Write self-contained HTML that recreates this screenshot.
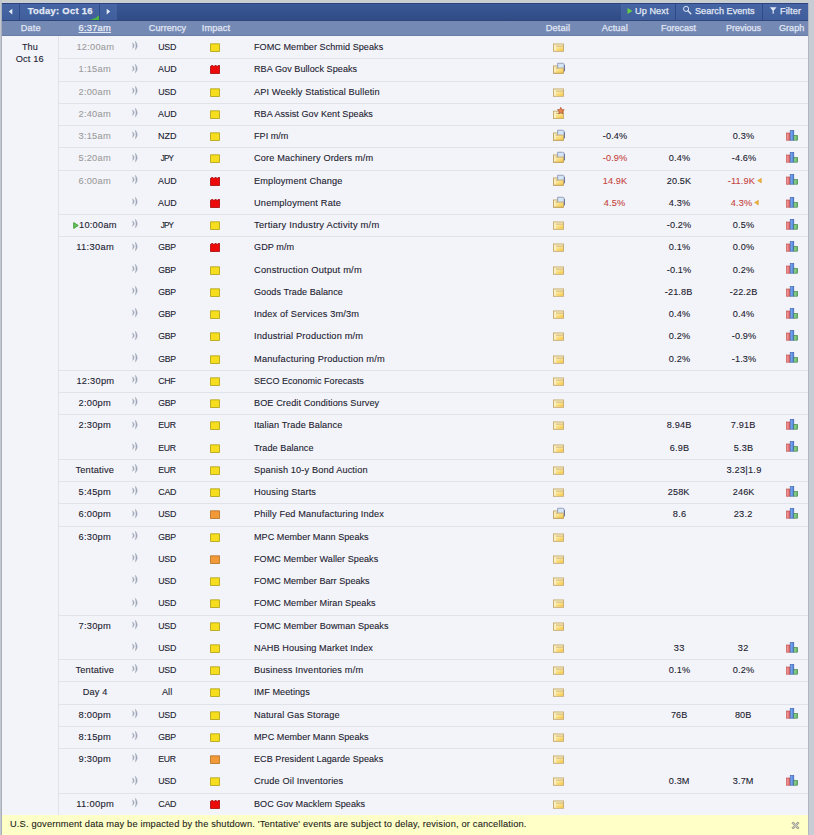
<!DOCTYPE html>
<html><head><meta charset="utf-8"><style>
html,body{margin:0;padding:0;}
body{width:814px;height:835px;position:relative;overflow:hidden;background:#cbcfcc;font-family:"Liberation Sans",sans-serif;}
.lb{position:absolute;left:0;top:0;width:2px;height:835px;background:#c3c7cf;}
.lb2{position:absolute;left:1px;top:3px;width:1px;height:832px;background:#a9aebb;}
.tb{position:absolute;left:2px;top:3px;width:806px;height:18px;background:linear-gradient(#3b5998,#304b84);}
.tbt{position:absolute;left:2px;top:3px;width:806px;height:1px;background:#2f4576;}
.tbl{position:absolute;left:2px;top:20px;width:806px;height:1px;background:#2f4678;}
.btn{position:absolute;top:4px;height:16px;background:linear-gradient(#4665a4,#405e9b);}
.sep{position:absolute;top:4px;height:16px;width:1px;background:#2f4a86;}
.hd{position:absolute;left:2px;top:21px;width:806px;height:14px;background:#7589b5;}
.hdl{position:absolute;left:2px;top:35px;width:806px;height:1px;background:#6a7ca6;}
.main{position:absolute;left:2px;top:36px;width:806px;height:779px;background:#f3f4f9;}
.vl{position:absolute;left:58px;top:36px;width:1px;height:779px;background:#e0e3ea;}
.hl{position:absolute;left:58px;width:750px;height:1px;background:#e0e3ea;}
.rb{position:absolute;left:808px;top:0;width:6px;height:835px;background:#c8ccd5;}
.rbl{position:absolute;left:808px;top:3px;width:1px;height:832px;background:#b2b6c2;}
.t{position:absolute;height:20px;line-height:20px;white-space:nowrap;color:#1b2130;-webkit-text-stroke:0.1px currentColor;}
.s{display:inline-block;}
.past{color:#9c9c9c;}
.cur{color:#1b2130;}
.val{color:#1b2130;}
.bad{color:#c6453f;}
.bt{color:#e2e9f6;-webkit-text-stroke:0.25px #e2e9f6;}
.ht{color:#e0e7f4;-webkit-text-stroke:0.25px #e0e7f4;}
.now{color:#f2f5fb;} .now .s{text-decoration:underline;}
.ic{position:absolute;line-height:0;}
.ft{position:absolute;left:2px;top:815px;width:806px;height:20px;background:#ffffc8;}
.ftt{color:#24241a;}
</style></head><body>
<svg width="0" height="0" style="position:absolute"><defs>
<linearGradient id="fg" x1="0" y1="0" x2="0.6" y2="1"><stop offset="0" stop-color="#fdf0b8"/><stop offset="1" stop-color="#f6cc50"/></linearGradient>
<linearGradient id="gr" x1="0" y1="0" x2="1" y2="0"><stop offset="0" stop-color="#f6a0a0"/><stop offset="1" stop-color="#e06060"/></linearGradient>
<linearGradient id="gb" x1="0" y1="0" x2="1" y2="0"><stop offset="0" stop-color="#88b4f4"/><stop offset="1" stop-color="#4a80dc"/></linearGradient>
<linearGradient id="gg" x1="0" y1="0" x2="1" y2="0"><stop offset="0" stop-color="#a4e0a4"/><stop offset="1" stop-color="#5aae60"/></linearGradient>
</defs></svg>
<div class="lb"></div><div class="lb2"></div><div style="position:absolute;left:2px;top:2px;width:806px;height:1px;background:#c6cde0"></div>
<div class="tb"></div>
<div class="tbt"></div>
<div class="btn" style="left:2px;width:17px"></div>
<div class="sep" style="left:19px"></div>
<div class="btn" style="left:20px;width:79px"></div>
<div class="sep" style="left:99px"></div>
<div class="btn" style="left:100px;width:17px"></div>
<div class="btn" style="left:621px;width:54px"></div>
<div class="sep" style="left:675px"></div>
<div class="btn" style="left:676px;width:86px"></div>
<div class="sep" style="left:762px"></div>
<div class="btn" style="left:763px;width:45px"></div>
<div class="tbl"></div>
<svg class="ic" style="left:8px;top:8px" width="5" height="8" viewBox="0 0 5 8"><path d="M4.3 0.8 L0.8 3.6 L4.3 6.4 Z" fill="#e6ecf7"/></svg>
<svg class="ic" style="left:106px;top:8px" width="5" height="8" viewBox="0 0 5 8"><path d="M0.7 0.8 L4.2 3.6 L0.7 6.4 Z" fill="#e6ecf7"/></svg>
<svg class="ic" style="left:90px;top:15px" width="9" height="5" viewBox="0 0 9 5"><path d="M9 0.3 L9 5 L0 5 Q5 4.2 9 0.3 Z" fill="#4cb544"/></svg>
<svg class="ic" style="left:627px;top:8px" width="6" height="6" viewBox="0 0 6 6"><path d="M0.5 0 L5.5 3 L0.5 6 Z" fill="#66cc44"/></svg>
<svg class="ic" style="left:680px;top:4px" width="14" height="12" viewBox="0 0 14 12"><circle cx="6.1" cy="4.9" r="2.55" fill="none" stroke="#dfe7f5" stroke-width="1"/><path d="M7.9 6.8 L10.8 9.7" stroke="#dfe7f5" stroke-width="1.3" stroke-linecap="round"/></svg>
<svg class="ic" style="left:768px;top:6px" width="10" height="9" viewBox="0 0 10 9"><path d="M1.8 1.2 L8.6 1.2 L5.8 4.4 L5.8 7.8 L4.6 7.8 L4.6 4.4 Z" fill="#dfe7f5"/></svg>
<div class="hd"></div>
<div class="hdl"></div>
<div class="main"></div>
<div class="vl"></div>
<div class="rb"></div><div class="rbl"></div>
<div class="ft"></div>
<svg class="ic" style="left:791px;top:821px" width="9" height="9" viewBox="0 0 9 9"><path d="M1 2.2 L2.2 1 L4.5 3.3 L6.8 1 L8 2.2 L5.7 4.5 L8 6.8 L6.8 8 L4.5 5.7 L2.2 8 L1 6.8 L3.3 4.5 Z" fill="#cfcfc6" stroke="#77776a" stroke-width="0.7"/></svg>
<div class="t bt" style="left:-40.40px;top:1.00px;width:200px;text-align:center;font-size:9.0px;font-weight:bold;"><span class="s" style="transform:scaleX(1.0424);transform-origin:center;letter-spacing:0.276px;margin-right:-0.276px">Today: Oct 16</span></div>
<div class="t bt" style="left:634.50px;top:1.00px;font-size:9.0px;"><span class="s" style="transform:scaleX(1.0125);transform-origin:left;letter-spacing:0.086px;margin-right:-0.086px">Up Next</span></div>
<div class="t bt" style="left:694.70px;top:1.00px;font-size:9.0px;"><span class="s" style="transform:scaleX(1.0074);transform-origin:left;letter-spacing:0.050px;margin-right:-0.050px">Search Events</span></div>
<div class="t bt" style="left:779.50px;top:1.00px;font-size:9.0px;"><span class="s" style="transform:scaleX(1.0208);transform-origin:left;letter-spacing:0.102px;margin-right:-0.102px">Filter</span></div>
<div class="t ht" style="left:-69.80px;top:18.00px;width:200px;text-align:center;font-size:9.0px;"><span class="s" style="transform:scaleX(1.0175);transform-origin:center;letter-spacing:0.122px;margin-right:-0.122px">Date</span></div>
<div class="t ht" style="left:67.00px;top:18.00px;width:200px;text-align:center;font-size:9.0px;"><span class="s" style="transform:scaleX(1.0097);transform-origin:center;letter-spacing:0.065px;margin-right:-0.065px">Currency</span></div>
<div class="t ht" style="left:115.60px;top:18.00px;width:200px;text-align:center;font-size:9.0px;"><span class="s" style="transform:scaleX(1.0252);transform-origin:center;letter-spacing:0.166px;margin-right:-0.166px">Impact</span></div>
<div class="t ht" style="left:458.20px;top:18.00px;width:200px;text-align:center;font-size:9.0px;"><span class="s" style="transform:scaleX(1.0250);transform-origin:center;letter-spacing:0.140px;margin-right:-0.140px">Detail</span></div>
<div class="t ht" style="left:514.40px;top:18.00px;width:200px;text-align:center;font-size:9.0px;"><span class="s" style="transform:scaleX(1.0158);transform-origin:center;letter-spacing:0.097px;margin-right:-0.097px">Actual</span></div>
<div class="t ht" style="left:579.00px;top:18.00px;width:200px;text-align:center;font-size:9.0px;"><span class="s" style="transform:scaleX(1.0013);transform-origin:center;letter-spacing:0.009px;margin-right:-0.009px">Forecast</span></div>
<div class="t ht" style="left:643.50px;top:18.00px;width:200px;text-align:center;font-size:9.0px;"><span class="s" style="transform:scaleX(1.0007);transform-origin:center;letter-spacing:0.005px;margin-right:-0.005px">Previous</span></div>
<div class="t ht" style="left:691.50px;top:18.00px;width:200px;text-align:center;font-size:9.0px;"><span class="s" style="transform:scaleX(1.0073);transform-origin:center;letter-spacing:0.054px;margin-right:-0.054px">Graph</span></div>
<div class="t ht now" style="left:-5.60px;top:18.00px;width:200px;text-align:center;font-size:9.0px;"><span class="s" style="transform:scaleX(1.0340);transform-origin:center;letter-spacing:0.247px;margin-right:-0.247px">6:37am</span></div>
<div class="t cur" style="left:-70.00px;top:37.00px;width:200px;text-align:center;font-size:9.0px;"><span class="s" style="transform:scaleX(1.0096);transform-origin:center;letter-spacing:0.074px;margin-right:-0.074px">Thu</span></div>
<div class="t cur" style="left:-70.40px;top:49.00px;width:200px;text-align:center;font-size:9.0px;"><span class="s" style="transform:scaleX(1.0231);transform-origin:center;letter-spacing:0.150px;margin-right:-0.150px">Oct 16</span></div>
<div class="t ftt" style="left:10.00px;top:814.00px;font-size:9.0px;"><span class="s" style="transform:scaleX(1.0291);transform-origin:left;letter-spacing:0.169px;margin-right:-0.169px">U.S. government data may be impacted by the shutdown. 'Tentative' events are subject to delay, revision, or cancellation.</span></div>
<div class="t past" style="left:-5.00px;top:37.00px;width:200px;text-align:center;font-size:9.0px;"><span class="s" style="transform:scaleX(1.0312);transform-origin:center;letter-spacing:0.227px;margin-right:-0.227px">12:00am</span></div>
<div class="ic" style="left:130.5px;top:41.40px"><svg width="9" height="10" viewBox="0 0 9 10"><path d="M1.5 1.7 Q5.0 4.6 1.5 7.5 Q2.5 4.6 1.5 1.7 Z" fill="#a4abba" stroke="#a4abba" stroke-width="0.4"/><path d="M4.3 0.1 Q8.2 4.6 4.3 9.1 Q5.6 4.6 4.3 0.1 Z" fill="#a0a8b8" stroke="#a0a8b8" stroke-width="0.35"/></svg></div>
<div class="t cur" style="left:67.00px;top:37.00px;width:200px;text-align:center;font-size:9.0px;"><span class="s" style="transform:scaleX(0.9800);transform-origin:center;letter-spacing:-0.194px;margin-right:0.194px">USD</span></div>
<div class="ic" style="left:210px;top:43.00px"><svg width="10" height="9" viewBox="0 0 10 9"><path d="M0.5 0.8 L9.5 0.8 L9.5 8.5 L0.5 8.5 Z" fill="#f6de1e" stroke="#aa9a08" stroke-width="0.75"/></svg></div>
<div class="t ev" style="left:253.50px;top:37.00px;font-size:9.0px;"><span class="s" style="transform:scaleX(1.0069);transform-origin:left;letter-spacing:0.052px;margin-right:-0.052px">FOMC Member Schmid Speaks</span></div>
<div class="ic" style="left:551px;top:39.00px"><svg width="16" height="16" viewBox="0 0 16 16"><rect x="2.5" y="4.95" width="9.95" height="7.35" fill="#fcf0c0" stroke="#c4a86c" stroke-width="0.9"/><rect x="5.0" y="7.55" width="7.0" height="4.3" fill="url(#fg)"/><path d="M5 7.1 L12.45 7.1" stroke="#c8aa6c" stroke-width="0.9"/></svg></div>
<div class="hl" style="top:58px"></div>
<div class="t past" style="left:-5.00px;top:59.00px;width:200px;text-align:center;font-size:9.0px;"><span class="s" style="transform:scaleX(1.0315);transform-origin:center;letter-spacing:0.229px;margin-right:-0.229px">1:15am</span></div>
<div class="ic" style="left:130.5px;top:63.65px"><svg width="9" height="10" viewBox="0 0 9 10"><path d="M1.5 1.7 Q5.0 4.6 1.5 7.5 Q2.5 4.6 1.5 1.7 Z" fill="#a4abba" stroke="#a4abba" stroke-width="0.4"/><path d="M4.3 0.1 Q8.2 4.6 4.3 9.1 Q5.6 4.6 4.3 0.1 Z" fill="#a0a8b8" stroke="#a0a8b8" stroke-width="0.35"/></svg></div>
<div class="t cur" style="left:67.00px;top:59.00px;width:200px;text-align:center;font-size:9.0px;"><span class="s" style="transform:scaleX(0.9889);transform-origin:center;letter-spacing:-0.107px;margin-right:0.107px">AUD</span></div>
<div class="ic" style="left:210px;top:65.25px"><svg width="10" height="9" viewBox="0 0 10 9"><path d="M0.5 1.3 L1.2 1.3 L1.6 0.4 L2.8 0.4 L3.2 1.3 L4.6 1.3 L5 0.4 L6.2 0.4 L6.6 1.3 L8 1.3 L8.4 0.2 L9.5 0.2 L9.5 8.5 L0.5 8.5 Z" fill="#ec0a0a" stroke="#a00000" stroke-width="0.75"/></svg></div>
<div class="t ev" style="left:253.50px;top:59.00px;font-size:9.0px;"><span class="s" style="transform:scaleX(1.0084);transform-origin:left;letter-spacing:0.058px;margin-right:-0.058px">RBA Gov Bullock Speaks</span></div>
<div class="ic" style="left:551px;top:61.25px"><svg width="16" height="16" viewBox="0 0 16 16"><rect x="2.5" y="4.95" width="9.95" height="7.35" fill="#fcf0c0" stroke="#c4a86c" stroke-width="0.9"/><path d="M6.6 2.25 L11.5 2.25 Q13.35 2.25 13.35 4.1 L13.35 10.2 L6.6 10.2 Z" fill="#d4e5f8" stroke="#8a93b0" stroke-width="0.85"/><path d="M13.35 4.1 L13.35 10.2" fill="none" stroke="#5f6888" stroke-width="0.9"/><path d="M4.6 7.1 L12.45 7.1 L12.45 12.3 L4.6 12.3 Z" fill="url(#fg)"/><path d="M4.6 7.1 L12.45 7.1" stroke="#c3a466" stroke-width="0.9"/><path d="M2.5 4.95 L2.5 12.3 L12.45 12.3 L12.45 7.1" fill="none" stroke="#c0a468" stroke-width="0.9"/></svg></div>
<div class="hl" style="top:81px"></div>
<div class="t past" style="left:-5.00px;top:82.00px;width:200px;text-align:center;font-size:9.0px;"><span class="s" style="transform:scaleX(1.0315);transform-origin:center;letter-spacing:0.229px;margin-right:-0.229px">2:00am</span></div>
<div class="ic" style="left:130.5px;top:85.90px"><svg width="9" height="10" viewBox="0 0 9 10"><path d="M1.5 1.7 Q5.0 4.6 1.5 7.5 Q2.5 4.6 1.5 1.7 Z" fill="#a4abba" stroke="#a4abba" stroke-width="0.4"/><path d="M4.3 0.1 Q8.2 4.6 4.3 9.1 Q5.6 4.6 4.3 0.1 Z" fill="#a0a8b8" stroke="#a0a8b8" stroke-width="0.35"/></svg></div>
<div class="t cur" style="left:67.00px;top:82.00px;width:200px;text-align:center;font-size:9.0px;"><span class="s" style="transform:scaleX(0.9800);transform-origin:center;letter-spacing:-0.194px;margin-right:0.194px">USD</span></div>
<div class="ic" style="left:210px;top:87.50px"><svg width="10" height="9" viewBox="0 0 10 9"><path d="M0.5 0.8 L9.5 0.8 L9.5 8.5 L0.5 8.5 Z" fill="#f6de1e" stroke="#aa9a08" stroke-width="0.75"/></svg></div>
<div class="t ev" style="left:253.50px;top:82.00px;font-size:9.0px;"><span class="s" style="transform:scaleX(1.0213);transform-origin:left;letter-spacing:0.120px;margin-right:-0.120px">API Weekly Statistical Bulletin</span></div>
<div class="ic" style="left:551px;top:83.50px"><svg width="16" height="16" viewBox="0 0 16 16"><rect x="2.5" y="4.95" width="9.95" height="7.35" fill="#fcf0c0" stroke="#c4a86c" stroke-width="0.9"/><rect x="5.0" y="7.55" width="7.0" height="4.3" fill="url(#fg)"/><path d="M5 7.1 L12.45 7.1" stroke="#c8aa6c" stroke-width="0.9"/></svg></div>
<div class="hl" style="top:103px"></div>
<div class="t past" style="left:-5.00px;top:104.00px;width:200px;text-align:center;font-size:9.0px;"><span class="s" style="transform:scaleX(1.0315);transform-origin:center;letter-spacing:0.229px;margin-right:-0.229px">2:40am</span></div>
<div class="ic" style="left:130.5px;top:108.15px"><svg width="9" height="10" viewBox="0 0 9 10"><path d="M1.5 1.7 Q5.0 4.6 1.5 7.5 Q2.5 4.6 1.5 1.7 Z" fill="#a4abba" stroke="#a4abba" stroke-width="0.4"/><path d="M4.3 0.1 Q8.2 4.6 4.3 9.1 Q5.6 4.6 4.3 0.1 Z" fill="#a0a8b8" stroke="#a0a8b8" stroke-width="0.35"/></svg></div>
<div class="t cur" style="left:67.00px;top:104.00px;width:200px;text-align:center;font-size:9.0px;"><span class="s" style="transform:scaleX(0.9889);transform-origin:center;letter-spacing:-0.107px;margin-right:0.107px">AUD</span></div>
<div class="ic" style="left:210px;top:109.75px"><svg width="10" height="9" viewBox="0 0 10 9"><path d="M0.5 0.8 L9.5 0.8 L9.5 8.5 L0.5 8.5 Z" fill="#f6de1e" stroke="#aa9a08" stroke-width="0.75"/></svg></div>
<div class="t ev" style="left:253.50px;top:104.00px;font-size:9.0px;"><span class="s" style="transform:scaleX(1.0082);transform-origin:left;letter-spacing:0.055px;margin-right:-0.055px">RBA Assist Gov Kent Speaks</span></div>
<div class="ic" style="left:551px;top:105.75px"><svg width="16" height="16" viewBox="0 0 16 16"><rect x="2.5" y="5.2" width="9.95" height="7.35" fill="#fcf0c0" stroke="#c4a86c" stroke-width="0.9"/><rect x="5.0" y="7.8" width="7.0" height="4.3" fill="url(#fg)"/><path d="M5 7.35 L12.45 7.35" stroke="#c8aa6c" stroke-width="0.9"/><path d="M9.80 1.30 L10.74 3.61 L13.22 3.79 L11.32 5.39 L11.92 7.81 L9.80 6.50 L7.68 7.81 L8.28 5.39 L6.38 3.79 L8.86 3.61 Z" fill="#ee8650" stroke="#a44a2c" stroke-width="0.65"/></svg></div>
<div class="hl" style="top:125px"></div>
<div class="t past" style="left:-5.00px;top:126.00px;width:200px;text-align:center;font-size:9.0px;"><span class="s" style="transform:scaleX(1.0315);transform-origin:center;letter-spacing:0.229px;margin-right:-0.229px">3:15am</span></div>
<div class="ic" style="left:130.5px;top:130.40px"><svg width="9" height="10" viewBox="0 0 9 10"><path d="M1.5 1.7 Q5.0 4.6 1.5 7.5 Q2.5 4.6 1.5 1.7 Z" fill="#a4abba" stroke="#a4abba" stroke-width="0.4"/><path d="M4.3 0.1 Q8.2 4.6 4.3 9.1 Q5.6 4.6 4.3 0.1 Z" fill="#a0a8b8" stroke="#a0a8b8" stroke-width="0.35"/></svg></div>
<div class="t cur" style="left:67.00px;top:126.00px;width:200px;text-align:center;font-size:9.0px;"><span class="s" style="transform:scaleX(1.0024);transform-origin:center;letter-spacing:0.022px;margin-right:-0.022px">NZD</span></div>
<div class="ic" style="left:210px;top:132.00px"><svg width="10" height="9" viewBox="0 0 10 9"><path d="M0.5 0.8 L9.5 0.8 L9.5 8.5 L0.5 8.5 Z" fill="#f6de1e" stroke="#aa9a08" stroke-width="0.75"/></svg></div>
<div class="t ev" style="left:253.50px;top:126.00px;font-size:9.0px;"><span class="s" style="transform:scaleX(1.0052);transform-origin:left;letter-spacing:0.038px;margin-right:-0.038px">FPI m/m</span></div>
<div class="ic" style="left:551px;top:128.00px"><svg width="16" height="16" viewBox="0 0 16 16"><rect x="2.5" y="4.95" width="9.95" height="7.35" fill="#fcf0c0" stroke="#c4a86c" stroke-width="0.9"/><path d="M6.6 2.25 L11.5 2.25 Q13.35 2.25 13.35 4.1 L13.35 10.2 L6.6 10.2 Z" fill="#d4e5f8" stroke="#8a93b0" stroke-width="0.85"/><path d="M13.35 4.1 L13.35 10.2" fill="none" stroke="#5f6888" stroke-width="0.9"/><path d="M4.6 7.1 L12.45 7.1 L12.45 12.3 L4.6 12.3 Z" fill="url(#fg)"/><path d="M4.6 7.1 L12.45 7.1" stroke="#c3a466" stroke-width="0.9"/><path d="M2.5 4.95 L2.5 12.3 L12.45 12.3 L12.45 7.1" fill="none" stroke="#c0a468" stroke-width="0.9"/></svg></div>
<div class="t val " style="left:514.50px;top:126.00px;width:200px;text-align:center;font-size:9.0px;"><span class="s" style="transform:scaleX(1.0171);transform-origin:center;letter-spacing:0.119px;margin-right:-0.119px">-0.4%</span></div>
<div class="t val " style="left:643.50px;top:126.00px;width:200px;text-align:center;font-size:9.0px;"><span class="s" style="transform:scaleX(1.0185);transform-origin:center;letter-spacing:0.140px;margin-right:-0.140px">0.3%</span></div>
<div class="ic" style="left:786px;top:129.80px"><svg width="13" height="11" viewBox="0 0 13 11"><rect x="0.5" y="3" width="3.6" height="7.2" fill="url(#gr)" stroke="#b84040" stroke-width="0.6"/><rect x="4.2" y="0.5" width="3.6" height="9.7" fill="url(#gb)" stroke="#3558a8" stroke-width="0.6"/><rect x="7.9" y="5.5" width="3.6" height="4.7" fill="url(#gg)" stroke="#357a3a" stroke-width="0.6"/></svg></div>
<div class="hl" style="top:147px"></div>
<div class="t past" style="left:-5.00px;top:148.00px;width:200px;text-align:center;font-size:9.0px;"><span class="s" style="transform:scaleX(1.0315);transform-origin:center;letter-spacing:0.229px;margin-right:-0.229px">5:20am</span></div>
<div class="ic" style="left:130.5px;top:152.65px"><svg width="9" height="10" viewBox="0 0 9 10"><path d="M1.5 1.7 Q5.0 4.6 1.5 7.5 Q2.5 4.6 1.5 1.7 Z" fill="#a4abba" stroke="#a4abba" stroke-width="0.4"/><path d="M4.3 0.1 Q8.2 4.6 4.3 9.1 Q5.6 4.6 4.3 0.1 Z" fill="#a0a8b8" stroke="#a0a8b8" stroke-width="0.35"/></svg></div>
<div class="t cur" style="left:67.00px;top:148.00px;width:200px;text-align:center;font-size:9.0px;"><span class="s" style="transform:scaleX(0.9045);transform-origin:center;letter-spacing:-0.871px;margin-right:0.871px">JPY</span></div>
<div class="ic" style="left:210px;top:154.25px"><svg width="10" height="9" viewBox="0 0 10 9"><path d="M0.5 0.8 L9.5 0.8 L9.5 8.5 L0.5 8.5 Z" fill="#f6de1e" stroke="#aa9a08" stroke-width="0.75"/></svg></div>
<div class="t ev" style="left:253.50px;top:148.00px;font-size:9.0px;"><span class="s" style="transform:scaleX(1.0200);transform-origin:left;letter-spacing:0.133px;margin-right:-0.133px">Core Machinery Orders m/m</span></div>
<div class="ic" style="left:551px;top:150.25px"><svg width="16" height="16" viewBox="0 0 16 16"><rect x="2.5" y="4.95" width="9.95" height="7.35" fill="#fcf0c0" stroke="#c4a86c" stroke-width="0.9"/><path d="M6.6 2.25 L11.5 2.25 Q13.35 2.25 13.35 4.1 L13.35 10.2 L6.6 10.2 Z" fill="#d4e5f8" stroke="#8a93b0" stroke-width="0.85"/><path d="M13.35 4.1 L13.35 10.2" fill="none" stroke="#5f6888" stroke-width="0.9"/><path d="M4.6 7.1 L12.45 7.1 L12.45 12.3 L4.6 12.3 Z" fill="url(#fg)"/><path d="M4.6 7.1 L12.45 7.1" stroke="#c3a466" stroke-width="0.9"/><path d="M2.5 4.95 L2.5 12.3 L12.45 12.3 L12.45 7.1" fill="none" stroke="#c0a468" stroke-width="0.9"/></svg></div>
<div class="t val bad" style="left:514.50px;top:148.00px;width:200px;text-align:center;font-size:9.0px;"><span class="s" style="transform:scaleX(1.0171);transform-origin:center;letter-spacing:0.119px;margin-right:-0.119px">-0.9%</span></div>
<div class="t val" style="left:579.00px;top:148.00px;width:200px;text-align:center;font-size:9.0px;"><span class="s" style="transform:scaleX(1.0185);transform-origin:center;letter-spacing:0.140px;margin-right:-0.140px">0.4%</span></div>
<div class="t val " style="left:643.50px;top:148.00px;width:200px;text-align:center;font-size:9.0px;"><span class="s" style="transform:scaleX(1.0171);transform-origin:center;letter-spacing:0.119px;margin-right:-0.119px">-4.6%</span></div>
<div class="ic" style="left:786px;top:152.05px"><svg width="13" height="11" viewBox="0 0 13 11"><rect x="0.5" y="3" width="3.6" height="7.2" fill="url(#gr)" stroke="#b84040" stroke-width="0.6"/><rect x="4.2" y="0.5" width="3.6" height="9.7" fill="url(#gb)" stroke="#3558a8" stroke-width="0.6"/><rect x="7.9" y="5.5" width="3.6" height="4.7" fill="url(#gg)" stroke="#357a3a" stroke-width="0.6"/></svg></div>
<div class="hl" style="top:170px"></div>
<div class="t past" style="left:-5.00px;top:171.00px;width:200px;text-align:center;font-size:9.0px;"><span class="s" style="transform:scaleX(1.0315);transform-origin:center;letter-spacing:0.229px;margin-right:-0.229px">6:00am</span></div>
<div class="ic" style="left:130.5px;top:174.90px"><svg width="9" height="10" viewBox="0 0 9 10"><path d="M1.5 1.7 Q5.0 4.6 1.5 7.5 Q2.5 4.6 1.5 1.7 Z" fill="#a4abba" stroke="#a4abba" stroke-width="0.4"/><path d="M4.3 0.1 Q8.2 4.6 4.3 9.1 Q5.6 4.6 4.3 0.1 Z" fill="#a0a8b8" stroke="#a0a8b8" stroke-width="0.35"/></svg></div>
<div class="t cur" style="left:67.00px;top:171.00px;width:200px;text-align:center;font-size:9.0px;"><span class="s" style="transform:scaleX(0.9889);transform-origin:center;letter-spacing:-0.107px;margin-right:0.107px">AUD</span></div>
<div class="ic" style="left:210px;top:176.50px"><svg width="10" height="9" viewBox="0 0 10 9"><path d="M0.5 1.3 L1.2 1.3 L1.6 0.4 L2.8 0.4 L3.2 1.3 L4.6 1.3 L5 0.4 L6.2 0.4 L6.6 1.3 L8 1.3 L8.4 0.2 L9.5 0.2 L9.5 8.5 L0.5 8.5 Z" fill="#ec0a0a" stroke="#a00000" stroke-width="0.75"/></svg></div>
<div class="t ev" style="left:253.50px;top:171.00px;font-size:9.0px;"><span class="s" style="transform:scaleX(1.0216);transform-origin:left;letter-spacing:0.157px;margin-right:-0.157px">Employment Change</span></div>
<div class="ic" style="left:551px;top:172.50px"><svg width="16" height="16" viewBox="0 0 16 16"><rect x="2.5" y="4.95" width="9.95" height="7.35" fill="#fcf0c0" stroke="#c4a86c" stroke-width="0.9"/><path d="M6.6 2.25 L11.5 2.25 Q13.35 2.25 13.35 4.1 L13.35 10.2 L6.6 10.2 Z" fill="#d4e5f8" stroke="#8a93b0" stroke-width="0.85"/><path d="M13.35 4.1 L13.35 10.2" fill="none" stroke="#5f6888" stroke-width="0.9"/><path d="M4.6 7.1 L12.45 7.1 L12.45 12.3 L4.6 12.3 Z" fill="url(#fg)"/><path d="M4.6 7.1 L12.45 7.1" stroke="#c3a466" stroke-width="0.9"/><path d="M2.5 4.95 L2.5 12.3 L12.45 12.3 L12.45 7.1" fill="none" stroke="#c0a468" stroke-width="0.9"/></svg></div>
<div class="t val bad" style="left:514.50px;top:171.00px;width:200px;text-align:center;font-size:9.0px;"><span class="s" style="transform:scaleX(1.0142);transform-origin:center;letter-spacing:0.099px;margin-right:-0.099px">14.9K</span></div>
<div class="t val" style="left:579.00px;top:171.00px;width:200px;text-align:center;font-size:9.0px;"><span class="s" style="transform:scaleX(1.0142);transform-origin:center;letter-spacing:0.099px;margin-right:-0.099px">20.5K</span></div>
<div class="t val bad" style="left:641.50px;top:171.00px;width:200px;text-align:center;font-size:9.0px;"><span class="s" style="transform:scaleX(1.0240);transform-origin:center;letter-spacing:0.151px;margin-right:-0.151px">-11.9K</span></div>
<svg class="ic" style="left:757px;top:178.10px" width="5" height="6" viewBox="0 0 5 6"><path d="M4.3 0.3 L0.6 2.6 L4.3 4.9 Z" fill="#f0b43a" stroke="#d89020" stroke-width="0.5"/></svg>
<div class="ic" style="left:786px;top:174.30px"><svg width="13" height="11" viewBox="0 0 13 11"><rect x="0.5" y="3" width="3.6" height="7.2" fill="url(#gr)" stroke="#b84040" stroke-width="0.6"/><rect x="4.2" y="0.5" width="3.6" height="9.7" fill="url(#gb)" stroke="#3558a8" stroke-width="0.6"/><rect x="7.9" y="5.5" width="3.6" height="4.7" fill="url(#gg)" stroke="#357a3a" stroke-width="0.6"/></svg></div>
<div class="ic" style="left:130.5px;top:197.15px"><svg width="9" height="10" viewBox="0 0 9 10"><path d="M1.5 1.7 Q5.0 4.6 1.5 7.5 Q2.5 4.6 1.5 1.7 Z" fill="#a4abba" stroke="#a4abba" stroke-width="0.4"/><path d="M4.3 0.1 Q8.2 4.6 4.3 9.1 Q5.6 4.6 4.3 0.1 Z" fill="#a0a8b8" stroke="#a0a8b8" stroke-width="0.35"/></svg></div>
<div class="t cur" style="left:67.00px;top:193.00px;width:200px;text-align:center;font-size:9.0px;"><span class="s" style="transform:scaleX(0.9889);transform-origin:center;letter-spacing:-0.107px;margin-right:0.107px">AUD</span></div>
<div class="ic" style="left:210px;top:198.75px"><svg width="10" height="9" viewBox="0 0 10 9"><path d="M0.5 1.3 L1.2 1.3 L1.6 0.4 L2.8 0.4 L3.2 1.3 L4.6 1.3 L5 0.4 L6.2 0.4 L6.6 1.3 L8 1.3 L8.4 0.2 L9.5 0.2 L9.5 8.5 L0.5 8.5 Z" fill="#ec0a0a" stroke="#a00000" stroke-width="0.75"/></svg></div>
<div class="t ev" style="left:253.50px;top:193.00px;font-size:9.0px;"><span class="s" style="transform:scaleX(1.0243);transform-origin:left;letter-spacing:0.172px;margin-right:-0.172px">Unemployment Rate</span></div>
<div class="ic" style="left:551px;top:194.75px"><svg width="16" height="16" viewBox="0 0 16 16"><rect x="2.5" y="4.95" width="9.95" height="7.35" fill="#fcf0c0" stroke="#c4a86c" stroke-width="0.9"/><path d="M6.6 2.25 L11.5 2.25 Q13.35 2.25 13.35 4.1 L13.35 10.2 L6.6 10.2 Z" fill="#d4e5f8" stroke="#8a93b0" stroke-width="0.85"/><path d="M13.35 4.1 L13.35 10.2" fill="none" stroke="#5f6888" stroke-width="0.9"/><path d="M4.6 7.1 L12.45 7.1 L12.45 12.3 L4.6 12.3 Z" fill="url(#fg)"/><path d="M4.6 7.1 L12.45 7.1" stroke="#c3a466" stroke-width="0.9"/><path d="M2.5 4.95 L2.5 12.3 L12.45 12.3 L12.45 7.1" fill="none" stroke="#c0a468" stroke-width="0.9"/></svg></div>
<div class="t val bad" style="left:514.50px;top:193.00px;width:200px;text-align:center;font-size:9.0px;"><span class="s" style="transform:scaleX(1.0185);transform-origin:center;letter-spacing:0.140px;margin-right:-0.140px">4.5%</span></div>
<div class="t val" style="left:579.00px;top:193.00px;width:200px;text-align:center;font-size:9.0px;"><span class="s" style="transform:scaleX(1.0185);transform-origin:center;letter-spacing:0.140px;margin-right:-0.140px">4.3%</span></div>
<div class="t val bad" style="left:641.50px;top:193.00px;width:200px;text-align:center;font-size:9.0px;"><span class="s" style="transform:scaleX(1.0185);transform-origin:center;letter-spacing:0.140px;margin-right:-0.140px">4.3%</span></div>
<svg class="ic" style="left:754px;top:200.35px" width="5" height="6" viewBox="0 0 5 6"><path d="M4.3 0.3 L0.6 2.6 L4.3 4.9 Z" fill="#f0b43a" stroke="#d89020" stroke-width="0.5"/></svg>
<div class="ic" style="left:786px;top:196.55px"><svg width="13" height="11" viewBox="0 0 13 11"><rect x="0.5" y="3" width="3.6" height="7.2" fill="url(#gr)" stroke="#b84040" stroke-width="0.6"/><rect x="4.2" y="0.5" width="3.6" height="9.7" fill="url(#gb)" stroke="#3558a8" stroke-width="0.6"/><rect x="7.9" y="5.5" width="3.6" height="4.7" fill="url(#gg)" stroke="#357a3a" stroke-width="0.6"/></svg></div>
<div class="hl" style="top:214px"></div>
<svg class="ic" style="left:72.5px;top:221.60px" width="6" height="7" viewBox="0 0 6 7"><path d="M0.7 0.6 L5.3 3.5 L0.7 6.4 Z" fill="#66c45a" stroke="#3f9a34" stroke-width="0.9"/></svg>
<div class="t fut" style="left:79.30px;top:215.00px;font-size:9.0px;"><span class="s" style="transform:scaleX(1.0312);transform-origin:left;letter-spacing:0.227px;margin-right:-0.227px">10:00am</span></div>
<div class="ic" style="left:130.5px;top:219.40px"><svg width="9" height="10" viewBox="0 0 9 10"><path d="M1.5 1.7 Q5.0 4.6 1.5 7.5 Q2.5 4.6 1.5 1.7 Z" fill="#a4abba" stroke="#a4abba" stroke-width="0.4"/><path d="M4.3 0.1 Q8.2 4.6 4.3 9.1 Q5.6 4.6 4.3 0.1 Z" fill="#a0a8b8" stroke="#a0a8b8" stroke-width="0.35"/></svg></div>
<div class="t cur" style="left:67.00px;top:215.00px;width:200px;text-align:center;font-size:9.0px;"><span class="s" style="transform:scaleX(0.9045);transform-origin:center;letter-spacing:-0.871px;margin-right:0.871px">JPY</span></div>
<div class="ic" style="left:210px;top:221.00px"><svg width="10" height="9" viewBox="0 0 10 9"><path d="M0.5 0.8 L9.5 0.8 L9.5 8.5 L0.5 8.5 Z" fill="#f6de1e" stroke="#aa9a08" stroke-width="0.75"/></svg></div>
<div class="t ev" style="left:253.50px;top:215.00px;font-size:9.0px;"><span class="s" style="transform:scaleX(1.0381);transform-origin:left;letter-spacing:0.210px;margin-right:-0.210px">Tertiary Industry Activity m/m</span></div>
<div class="ic" style="left:551px;top:217.00px"><svg width="16" height="16" viewBox="0 0 16 16"><rect x="2.5" y="4.95" width="9.95" height="7.35" fill="#fcf0c0" stroke="#c4a86c" stroke-width="0.9"/><rect x="5.0" y="7.55" width="7.0" height="4.3" fill="url(#fg)"/><path d="M5 7.1 L12.45 7.1" stroke="#c8aa6c" stroke-width="0.9"/></svg></div>
<div class="t val" style="left:579.00px;top:215.00px;width:200px;text-align:center;font-size:9.0px;"><span class="s" style="transform:scaleX(1.0171);transform-origin:center;letter-spacing:0.119px;margin-right:-0.119px">-0.2%</span></div>
<div class="t val " style="left:643.50px;top:215.00px;width:200px;text-align:center;font-size:9.0px;"><span class="s" style="transform:scaleX(1.0185);transform-origin:center;letter-spacing:0.140px;margin-right:-0.140px">0.5%</span></div>
<div class="ic" style="left:786px;top:218.80px"><svg width="13" height="11" viewBox="0 0 13 11"><rect x="0.5" y="3" width="3.6" height="7.2" fill="url(#gr)" stroke="#b84040" stroke-width="0.6"/><rect x="4.2" y="0.5" width="3.6" height="9.7" fill="url(#gb)" stroke="#3558a8" stroke-width="0.6"/><rect x="7.9" y="5.5" width="3.6" height="4.7" fill="url(#gg)" stroke="#357a3a" stroke-width="0.6"/></svg></div>
<div class="hl" style="top:236px"></div>
<div class="t fut" style="left:-5.00px;top:237.00px;width:200px;text-align:center;font-size:9.0px;"><span class="s" style="transform:scaleX(1.0395);transform-origin:center;letter-spacing:0.280px;margin-right:-0.280px">11:30am</span></div>
<div class="ic" style="left:130.5px;top:241.65px"><svg width="9" height="10" viewBox="0 0 9 10"><path d="M1.5 1.7 Q5.0 4.6 1.5 7.5 Q2.5 4.6 1.5 1.7 Z" fill="#a4abba" stroke="#a4abba" stroke-width="0.4"/><path d="M4.3 0.1 Q8.2 4.6 4.3 9.1 Q5.6 4.6 4.3 0.1 Z" fill="#a0a8b8" stroke="#a0a8b8" stroke-width="0.35"/></svg></div>
<div class="t cur" style="left:67.00px;top:237.00px;width:200px;text-align:center;font-size:9.0px;"><span class="s" style="transform:scaleX(0.9669);transform-origin:center;letter-spacing:-0.325px;margin-right:0.325px">GBP</span></div>
<div class="ic" style="left:210px;top:243.25px"><svg width="10" height="9" viewBox="0 0 10 9"><path d="M0.5 1.3 L1.2 1.3 L1.6 0.4 L2.8 0.4 L3.2 1.3 L4.6 1.3 L5 0.4 L6.2 0.4 L6.6 1.3 L8 1.3 L8.4 0.2 L9.5 0.2 L9.5 8.5 L0.5 8.5 Z" fill="#ec0a0a" stroke="#a00000" stroke-width="0.75"/></svg></div>
<div class="t ev" style="left:253.50px;top:237.00px;font-size:9.0px;"><span class="s" style="transform:scaleX(1.0082);transform-origin:left;letter-spacing:0.068px;margin-right:-0.068px">GDP m/m</span></div>
<div class="ic" style="left:551px;top:239.25px"><svg width="16" height="16" viewBox="0 0 16 16"><rect x="2.5" y="4.95" width="9.95" height="7.35" fill="#fcf0c0" stroke="#c4a86c" stroke-width="0.9"/><rect x="5.0" y="7.55" width="7.0" height="4.3" fill="url(#fg)"/><path d="M5 7.1 L12.45 7.1" stroke="#c8aa6c" stroke-width="0.9"/></svg></div>
<div class="t val" style="left:579.00px;top:237.00px;width:200px;text-align:center;font-size:9.0px;"><span class="s" style="transform:scaleX(1.0185);transform-origin:center;letter-spacing:0.140px;margin-right:-0.140px">0.1%</span></div>
<div class="t val " style="left:643.50px;top:237.00px;width:200px;text-align:center;font-size:9.0px;"><span class="s" style="transform:scaleX(1.0185);transform-origin:center;letter-spacing:0.140px;margin-right:-0.140px">0.0%</span></div>
<div class="ic" style="left:786px;top:241.05px"><svg width="13" height="11" viewBox="0 0 13 11"><rect x="0.5" y="3" width="3.6" height="7.2" fill="url(#gr)" stroke="#b84040" stroke-width="0.6"/><rect x="4.2" y="0.5" width="3.6" height="9.7" fill="url(#gb)" stroke="#3558a8" stroke-width="0.6"/><rect x="7.9" y="5.5" width="3.6" height="4.7" fill="url(#gg)" stroke="#357a3a" stroke-width="0.6"/></svg></div>
<div class="ic" style="left:130.5px;top:263.90px"><svg width="9" height="10" viewBox="0 0 9 10"><path d="M1.5 1.7 Q5.0 4.6 1.5 7.5 Q2.5 4.6 1.5 1.7 Z" fill="#a4abba" stroke="#a4abba" stroke-width="0.4"/><path d="M4.3 0.1 Q8.2 4.6 4.3 9.1 Q5.6 4.6 4.3 0.1 Z" fill="#a0a8b8" stroke="#a0a8b8" stroke-width="0.35"/></svg></div>
<div class="t cur" style="left:67.00px;top:260.00px;width:200px;text-align:center;font-size:9.0px;"><span class="s" style="transform:scaleX(0.9669);transform-origin:center;letter-spacing:-0.325px;margin-right:0.325px">GBP</span></div>
<div class="ic" style="left:210px;top:265.50px"><svg width="10" height="9" viewBox="0 0 10 9"><path d="M0.5 0.8 L9.5 0.8 L9.5 8.5 L0.5 8.5 Z" fill="#f6de1e" stroke="#aa9a08" stroke-width="0.75"/></svg></div>
<div class="t ev" style="left:253.50px;top:260.00px;font-size:9.0px;"><span class="s" style="transform:scaleX(1.0312);transform-origin:left;letter-spacing:0.197px;margin-right:-0.197px">Construction Output m/m</span></div>
<div class="ic" style="left:551px;top:261.50px"><svg width="16" height="16" viewBox="0 0 16 16"><rect x="2.5" y="4.95" width="9.95" height="7.35" fill="#fcf0c0" stroke="#c4a86c" stroke-width="0.9"/><rect x="5.0" y="7.55" width="7.0" height="4.3" fill="url(#fg)"/><path d="M5 7.1 L12.45 7.1" stroke="#c8aa6c" stroke-width="0.9"/></svg></div>
<div class="t val" style="left:579.00px;top:260.00px;width:200px;text-align:center;font-size:9.0px;"><span class="s" style="transform:scaleX(1.0171);transform-origin:center;letter-spacing:0.119px;margin-right:-0.119px">-0.1%</span></div>
<div class="t val " style="left:643.50px;top:260.00px;width:200px;text-align:center;font-size:9.0px;"><span class="s" style="transform:scaleX(1.0185);transform-origin:center;letter-spacing:0.140px;margin-right:-0.140px">0.2%</span></div>
<div class="ic" style="left:786px;top:263.30px"><svg width="13" height="11" viewBox="0 0 13 11"><rect x="0.5" y="3" width="3.6" height="7.2" fill="url(#gr)" stroke="#b84040" stroke-width="0.6"/><rect x="4.2" y="0.5" width="3.6" height="9.7" fill="url(#gb)" stroke="#3558a8" stroke-width="0.6"/><rect x="7.9" y="5.5" width="3.6" height="4.7" fill="url(#gg)" stroke="#357a3a" stroke-width="0.6"/></svg></div>
<div class="ic" style="left:130.5px;top:286.15px"><svg width="9" height="10" viewBox="0 0 9 10"><path d="M1.5 1.7 Q5.0 4.6 1.5 7.5 Q2.5 4.6 1.5 1.7 Z" fill="#a4abba" stroke="#a4abba" stroke-width="0.4"/><path d="M4.3 0.1 Q8.2 4.6 4.3 9.1 Q5.6 4.6 4.3 0.1 Z" fill="#a0a8b8" stroke="#a0a8b8" stroke-width="0.35"/></svg></div>
<div class="t cur" style="left:67.00px;top:282.00px;width:200px;text-align:center;font-size:9.0px;"><span class="s" style="transform:scaleX(0.9669);transform-origin:center;letter-spacing:-0.325px;margin-right:0.325px">GBP</span></div>
<div class="ic" style="left:210px;top:287.75px"><svg width="10" height="9" viewBox="0 0 10 9"><path d="M0.5 0.8 L9.5 0.8 L9.5 8.5 L0.5 8.5 Z" fill="#f6de1e" stroke="#aa9a08" stroke-width="0.75"/></svg></div>
<div class="t ev" style="left:253.50px;top:282.00px;font-size:9.0px;"><span class="s" style="transform:scaleX(1.0083);transform-origin:left;letter-spacing:0.057px;margin-right:-0.057px">Goods Trade Balance</span></div>
<div class="ic" style="left:551px;top:283.75px"><svg width="16" height="16" viewBox="0 0 16 16"><rect x="2.5" y="4.95" width="9.95" height="7.35" fill="#fcf0c0" stroke="#c4a86c" stroke-width="0.9"/><rect x="5.0" y="7.55" width="7.0" height="4.3" fill="url(#fg)"/><path d="M5 7.1 L12.45 7.1" stroke="#c8aa6c" stroke-width="0.9"/></svg></div>
<div class="t val" style="left:579.00px;top:282.00px;width:200px;text-align:center;font-size:9.0px;"><span class="s" style="transform:scaleX(1.0172);transform-origin:center;letter-spacing:0.112px;margin-right:-0.112px">-21.8B</span></div>
<div class="t val " style="left:643.50px;top:282.00px;width:200px;text-align:center;font-size:9.0px;"><span class="s" style="transform:scaleX(1.0172);transform-origin:center;letter-spacing:0.112px;margin-right:-0.112px">-22.2B</span></div>
<div class="ic" style="left:786px;top:285.55px"><svg width="13" height="11" viewBox="0 0 13 11"><rect x="0.5" y="3" width="3.6" height="7.2" fill="url(#gr)" stroke="#b84040" stroke-width="0.6"/><rect x="4.2" y="0.5" width="3.6" height="9.7" fill="url(#gb)" stroke="#3558a8" stroke-width="0.6"/><rect x="7.9" y="5.5" width="3.6" height="4.7" fill="url(#gg)" stroke="#357a3a" stroke-width="0.6"/></svg></div>
<div class="ic" style="left:130.5px;top:308.40px"><svg width="9" height="10" viewBox="0 0 9 10"><path d="M1.5 1.7 Q5.0 4.6 1.5 7.5 Q2.5 4.6 1.5 1.7 Z" fill="#a4abba" stroke="#a4abba" stroke-width="0.4"/><path d="M4.3 0.1 Q8.2 4.6 4.3 9.1 Q5.6 4.6 4.3 0.1 Z" fill="#a0a8b8" stroke="#a0a8b8" stroke-width="0.35"/></svg></div>
<div class="t cur" style="left:67.00px;top:304.00px;width:200px;text-align:center;font-size:9.0px;"><span class="s" style="transform:scaleX(0.9669);transform-origin:center;letter-spacing:-0.325px;margin-right:0.325px">GBP</span></div>
<div class="ic" style="left:210px;top:310.00px"><svg width="10" height="9" viewBox="0 0 10 9"><path d="M0.5 0.8 L9.5 0.8 L9.5 8.5 L0.5 8.5 Z" fill="#f6de1e" stroke="#aa9a08" stroke-width="0.75"/></svg></div>
<div class="t ev" style="left:253.50px;top:304.00px;font-size:9.0px;"><span class="s" style="transform:scaleX(1.0247);transform-origin:left;letter-spacing:0.156px;margin-right:-0.156px">Index of Services 3m/3m</span></div>
<div class="ic" style="left:551px;top:306.00px"><svg width="16" height="16" viewBox="0 0 16 16"><rect x="2.5" y="4.95" width="9.95" height="7.35" fill="#fcf0c0" stroke="#c4a86c" stroke-width="0.9"/><rect x="5.0" y="7.55" width="7.0" height="4.3" fill="url(#fg)"/><path d="M5 7.1 L12.45 7.1" stroke="#c8aa6c" stroke-width="0.9"/></svg></div>
<div class="t val" style="left:579.00px;top:304.00px;width:200px;text-align:center;font-size:9.0px;"><span class="s" style="transform:scaleX(1.0185);transform-origin:center;letter-spacing:0.140px;margin-right:-0.140px">0.4%</span></div>
<div class="t val " style="left:643.50px;top:304.00px;width:200px;text-align:center;font-size:9.0px;"><span class="s" style="transform:scaleX(1.0185);transform-origin:center;letter-spacing:0.140px;margin-right:-0.140px">0.4%</span></div>
<div class="ic" style="left:786px;top:307.80px"><svg width="13" height="11" viewBox="0 0 13 11"><rect x="0.5" y="3" width="3.6" height="7.2" fill="url(#gr)" stroke="#b84040" stroke-width="0.6"/><rect x="4.2" y="0.5" width="3.6" height="9.7" fill="url(#gb)" stroke="#3558a8" stroke-width="0.6"/><rect x="7.9" y="5.5" width="3.6" height="4.7" fill="url(#gg)" stroke="#357a3a" stroke-width="0.6"/></svg></div>
<div class="ic" style="left:130.5px;top:330.65px"><svg width="9" height="10" viewBox="0 0 9 10"><path d="M1.5 1.7 Q5.0 4.6 1.5 7.5 Q2.5 4.6 1.5 1.7 Z" fill="#a4abba" stroke="#a4abba" stroke-width="0.4"/><path d="M4.3 0.1 Q8.2 4.6 4.3 9.1 Q5.6 4.6 4.3 0.1 Z" fill="#a0a8b8" stroke="#a0a8b8" stroke-width="0.35"/></svg></div>
<div class="t cur" style="left:67.00px;top:326.00px;width:200px;text-align:center;font-size:9.0px;"><span class="s" style="transform:scaleX(0.9669);transform-origin:center;letter-spacing:-0.325px;margin-right:0.325px">GBP</span></div>
<div class="ic" style="left:210px;top:332.25px"><svg width="10" height="9" viewBox="0 0 10 9"><path d="M0.5 0.8 L9.5 0.8 L9.5 8.5 L0.5 8.5 Z" fill="#f6de1e" stroke="#aa9a08" stroke-width="0.75"/></svg></div>
<div class="t ev" style="left:253.50px;top:326.00px;font-size:9.0px;"><span class="s" style="transform:scaleX(1.0283);transform-origin:left;letter-spacing:0.168px;margin-right:-0.168px">Industrial Production m/m</span></div>
<div class="ic" style="left:551px;top:328.25px"><svg width="16" height="16" viewBox="0 0 16 16"><rect x="2.5" y="4.95" width="9.95" height="7.35" fill="#fcf0c0" stroke="#c4a86c" stroke-width="0.9"/><rect x="5.0" y="7.55" width="7.0" height="4.3" fill="url(#fg)"/><path d="M5 7.1 L12.45 7.1" stroke="#c8aa6c" stroke-width="0.9"/></svg></div>
<div class="t val" style="left:579.00px;top:326.00px;width:200px;text-align:center;font-size:9.0px;"><span class="s" style="transform:scaleX(1.0185);transform-origin:center;letter-spacing:0.140px;margin-right:-0.140px">0.2%</span></div>
<div class="t val " style="left:643.50px;top:326.00px;width:200px;text-align:center;font-size:9.0px;"><span class="s" style="transform:scaleX(1.0171);transform-origin:center;letter-spacing:0.119px;margin-right:-0.119px">-0.9%</span></div>
<div class="ic" style="left:786px;top:330.05px"><svg width="13" height="11" viewBox="0 0 13 11"><rect x="0.5" y="3" width="3.6" height="7.2" fill="url(#gr)" stroke="#b84040" stroke-width="0.6"/><rect x="4.2" y="0.5" width="3.6" height="9.7" fill="url(#gb)" stroke="#3558a8" stroke-width="0.6"/><rect x="7.9" y="5.5" width="3.6" height="4.7" fill="url(#gg)" stroke="#357a3a" stroke-width="0.6"/></svg></div>
<div class="ic" style="left:130.5px;top:352.90px"><svg width="9" height="10" viewBox="0 0 9 10"><path d="M1.5 1.7 Q5.0 4.6 1.5 7.5 Q2.5 4.6 1.5 1.7 Z" fill="#a4abba" stroke="#a4abba" stroke-width="0.4"/><path d="M4.3 0.1 Q8.2 4.6 4.3 9.1 Q5.6 4.6 4.3 0.1 Z" fill="#a0a8b8" stroke="#a0a8b8" stroke-width="0.35"/></svg></div>
<div class="t cur" style="left:67.00px;top:349.00px;width:200px;text-align:center;font-size:9.0px;"><span class="s" style="transform:scaleX(0.9669);transform-origin:center;letter-spacing:-0.325px;margin-right:0.325px">GBP</span></div>
<div class="ic" style="left:210px;top:354.50px"><svg width="10" height="9" viewBox="0 0 10 9"><path d="M0.5 0.8 L9.5 0.8 L9.5 8.5 L0.5 8.5 Z" fill="#f6de1e" stroke="#aa9a08" stroke-width="0.75"/></svg></div>
<div class="t ev" style="left:253.50px;top:349.00px;font-size:9.0px;"><span class="s" style="transform:scaleX(1.0270);transform-origin:left;letter-spacing:0.173px;margin-right:-0.173px">Manufacturing Production m/m</span></div>
<div class="ic" style="left:551px;top:350.50px"><svg width="16" height="16" viewBox="0 0 16 16"><rect x="2.5" y="4.95" width="9.95" height="7.35" fill="#fcf0c0" stroke="#c4a86c" stroke-width="0.9"/><rect x="5.0" y="7.55" width="7.0" height="4.3" fill="url(#fg)"/><path d="M5 7.1 L12.45 7.1" stroke="#c8aa6c" stroke-width="0.9"/></svg></div>
<div class="t val" style="left:579.00px;top:349.00px;width:200px;text-align:center;font-size:9.0px;"><span class="s" style="transform:scaleX(1.0185);transform-origin:center;letter-spacing:0.140px;margin-right:-0.140px">0.2%</span></div>
<div class="t val " style="left:643.50px;top:349.00px;width:200px;text-align:center;font-size:9.0px;"><span class="s" style="transform:scaleX(1.0171);transform-origin:center;letter-spacing:0.119px;margin-right:-0.119px">-1.3%</span></div>
<div class="ic" style="left:786px;top:352.30px"><svg width="13" height="11" viewBox="0 0 13 11"><rect x="0.5" y="3" width="3.6" height="7.2" fill="url(#gr)" stroke="#b84040" stroke-width="0.6"/><rect x="4.2" y="0.5" width="3.6" height="9.7" fill="url(#gb)" stroke="#3558a8" stroke-width="0.6"/><rect x="7.9" y="5.5" width="3.6" height="4.7" fill="url(#gg)" stroke="#357a3a" stroke-width="0.6"/></svg></div>
<div class="hl" style="top:370px"></div>
<div class="t fut" style="left:-5.00px;top:371.00px;width:200px;text-align:center;font-size:9.0px;"><span class="s" style="transform:scaleX(1.0334);transform-origin:center;letter-spacing:0.243px;margin-right:-0.243px">12:30pm</span></div>
<div class="ic" style="left:130.5px;top:375.15px"><svg width="9" height="10" viewBox="0 0 9 10"><path d="M1.5 1.7 Q5.0 4.6 1.5 7.5 Q2.5 4.6 1.5 1.7 Z" fill="#a4abba" stroke="#a4abba" stroke-width="0.4"/><path d="M4.3 0.1 Q8.2 4.6 4.3 9.1 Q5.6 4.6 4.3 0.1 Z" fill="#a0a8b8" stroke="#a0a8b8" stroke-width="0.35"/></svg></div>
<div class="t cur" style="left:67.00px;top:371.00px;width:200px;text-align:center;font-size:9.0px;"><span class="s" style="transform:scaleX(0.9701);transform-origin:center;letter-spacing:-0.285px;margin-right:0.285px">CHF</span></div>
<div class="ic" style="left:210px;top:376.75px"><svg width="10" height="9" viewBox="0 0 10 9"><path d="M0.5 0.8 L9.5 0.8 L9.5 8.5 L0.5 8.5 Z" fill="#f6de1e" stroke="#aa9a08" stroke-width="0.75"/></svg></div>
<div class="t ev" style="left:253.50px;top:371.00px;font-size:9.0px;"><span class="s" style="transform:scaleX(1.0005);transform-origin:left;letter-spacing:0.004px;margin-right:-0.004px">SECO Economic Forecasts</span></div>
<div class="ic" style="left:551px;top:372.75px"><svg width="16" height="16" viewBox="0 0 16 16"><rect x="2.5" y="4.95" width="9.95" height="7.35" fill="#fcf0c0" stroke="#c4a86c" stroke-width="0.9"/><rect x="5.0" y="7.55" width="7.0" height="4.3" fill="url(#fg)"/><path d="M5 7.1 L12.45 7.1" stroke="#c8aa6c" stroke-width="0.9"/></svg></div>
<div class="hl" style="top:392px"></div>
<div class="t fut" style="left:-5.00px;top:393.00px;width:200px;text-align:center;font-size:9.0px;"><span class="s" style="transform:scaleX(1.0340);transform-origin:center;letter-spacing:0.246px;margin-right:-0.246px">2:00pm</span></div>
<div class="ic" style="left:130.5px;top:397.40px"><svg width="9" height="10" viewBox="0 0 9 10"><path d="M1.5 1.7 Q5.0 4.6 1.5 7.5 Q2.5 4.6 1.5 1.7 Z" fill="#a4abba" stroke="#a4abba" stroke-width="0.4"/><path d="M4.3 0.1 Q8.2 4.6 4.3 9.1 Q5.6 4.6 4.3 0.1 Z" fill="#a0a8b8" stroke="#a0a8b8" stroke-width="0.35"/></svg></div>
<div class="t cur" style="left:67.00px;top:393.00px;width:200px;text-align:center;font-size:9.0px;"><span class="s" style="transform:scaleX(0.9669);transform-origin:center;letter-spacing:-0.325px;margin-right:0.325px">GBP</span></div>
<div class="ic" style="left:210px;top:399.00px"><svg width="10" height="9" viewBox="0 0 10 9"><path d="M0.5 0.8 L9.5 0.8 L9.5 8.5 L0.5 8.5 Z" fill="#f6de1e" stroke="#aa9a08" stroke-width="0.75"/></svg></div>
<div class="t ev" style="left:253.50px;top:393.00px;font-size:9.0px;"><span class="s" style="transform:scaleX(1.0138);transform-origin:left;letter-spacing:0.088px;margin-right:-0.088px">BOE Credit Conditions Survey</span></div>
<div class="ic" style="left:551px;top:395.00px"><svg width="16" height="16" viewBox="0 0 16 16"><rect x="2.5" y="4.95" width="9.95" height="7.35" fill="#fcf0c0" stroke="#c4a86c" stroke-width="0.9"/><rect x="5.0" y="7.55" width="7.0" height="4.3" fill="url(#fg)"/><path d="M5 7.1 L12.45 7.1" stroke="#c8aa6c" stroke-width="0.9"/></svg></div>
<div class="hl" style="top:414px"></div>
<div class="t fut" style="left:-5.00px;top:415.00px;width:200px;text-align:center;font-size:9.0px;"><span class="s" style="transform:scaleX(1.0340);transform-origin:center;letter-spacing:0.246px;margin-right:-0.246px">2:30pm</span></div>
<div class="ic" style="left:130.5px;top:419.65px"><svg width="9" height="10" viewBox="0 0 9 10"><path d="M1.5 1.7 Q5.0 4.6 1.5 7.5 Q2.5 4.6 1.5 1.7 Z" fill="#a4abba" stroke="#a4abba" stroke-width="0.4"/><path d="M4.3 0.1 Q8.2 4.6 4.3 9.1 Q5.6 4.6 4.3 0.1 Z" fill="#a0a8b8" stroke="#a0a8b8" stroke-width="0.35"/></svg></div>
<div class="t cur" style="left:67.00px;top:415.00px;width:200px;text-align:center;font-size:9.0px;"><span class="s" style="transform:scaleX(0.9661);transform-origin:center;letter-spacing:-0.333px;margin-right:0.333px">EUR</span></div>
<div class="ic" style="left:210px;top:421.25px"><svg width="10" height="9" viewBox="0 0 10 9"><path d="M0.5 0.8 L9.5 0.8 L9.5 8.5 L0.5 8.5 Z" fill="#f6de1e" stroke="#aa9a08" stroke-width="0.75"/></svg></div>
<div class="t ev" style="left:253.50px;top:415.00px;font-size:9.0px;"><span class="s" style="transform:scaleX(1.0183);transform-origin:left;letter-spacing:0.108px;margin-right:-0.108px">Italian Trade Balance</span></div>
<div class="ic" style="left:551px;top:417.25px"><svg width="16" height="16" viewBox="0 0 16 16"><rect x="2.5" y="4.95" width="9.95" height="7.35" fill="#fcf0c0" stroke="#c4a86c" stroke-width="0.9"/><rect x="5.0" y="7.55" width="7.0" height="4.3" fill="url(#fg)"/><path d="M5 7.1 L12.45 7.1" stroke="#c8aa6c" stroke-width="0.9"/></svg></div>
<div class="t val" style="left:579.00px;top:415.00px;width:200px;text-align:center;font-size:9.0px;"><span class="s" style="transform:scaleX(1.0187);transform-origin:center;letter-spacing:0.129px;margin-right:-0.129px">8.94B</span></div>
<div class="t val " style="left:643.50px;top:415.00px;width:200px;text-align:center;font-size:9.0px;"><span class="s" style="transform:scaleX(1.0187);transform-origin:center;letter-spacing:0.129px;margin-right:-0.129px">7.91B</span></div>
<div class="ic" style="left:786px;top:419.05px"><svg width="13" height="11" viewBox="0 0 13 11"><rect x="0.5" y="3" width="3.6" height="7.2" fill="url(#gr)" stroke="#b84040" stroke-width="0.6"/><rect x="4.2" y="0.5" width="3.6" height="9.7" fill="url(#gb)" stroke="#3558a8" stroke-width="0.6"/><rect x="7.9" y="5.5" width="3.6" height="4.7" fill="url(#gg)" stroke="#357a3a" stroke-width="0.6"/></svg></div>
<div class="ic" style="left:130.5px;top:441.90px"><svg width="9" height="10" viewBox="0 0 9 10"><path d="M1.5 1.7 Q5.0 4.6 1.5 7.5 Q2.5 4.6 1.5 1.7 Z" fill="#a4abba" stroke="#a4abba" stroke-width="0.4"/><path d="M4.3 0.1 Q8.2 4.6 4.3 9.1 Q5.6 4.6 4.3 0.1 Z" fill="#a0a8b8" stroke="#a0a8b8" stroke-width="0.35"/></svg></div>
<div class="t cur" style="left:67.00px;top:438.00px;width:200px;text-align:center;font-size:9.0px;"><span class="s" style="transform:scaleX(0.9661);transform-origin:center;letter-spacing:-0.333px;margin-right:0.333px">EUR</span></div>
<div class="ic" style="left:210px;top:443.50px"><svg width="10" height="9" viewBox="0 0 10 9"><path d="M0.5 0.8 L9.5 0.8 L9.5 8.5 L0.5 8.5 Z" fill="#f6de1e" stroke="#aa9a08" stroke-width="0.75"/></svg></div>
<div class="t ev" style="left:253.50px;top:438.00px;font-size:9.0px;"><span class="s" style="transform:scaleX(1.0091);transform-origin:left;letter-spacing:0.061px;margin-right:-0.061px">Trade Balance</span></div>
<div class="ic" style="left:551px;top:439.50px"><svg width="16" height="16" viewBox="0 0 16 16"><rect x="2.5" y="4.95" width="9.95" height="7.35" fill="#fcf0c0" stroke="#c4a86c" stroke-width="0.9"/><rect x="5.0" y="7.55" width="7.0" height="4.3" fill="url(#fg)"/><path d="M5 7.1 L12.45 7.1" stroke="#c8aa6c" stroke-width="0.9"/></svg></div>
<div class="t val" style="left:579.00px;top:438.00px;width:200px;text-align:center;font-size:9.0px;"><span class="s" style="transform:scaleX(1.0155);transform-origin:center;letter-spacing:0.106px;margin-right:-0.106px">6.9B</span></div>
<div class="t val " style="left:643.50px;top:438.00px;width:200px;text-align:center;font-size:9.0px;"><span class="s" style="transform:scaleX(1.0155);transform-origin:center;letter-spacing:0.106px;margin-right:-0.106px">5.3B</span></div>
<div class="ic" style="left:786px;top:441.30px"><svg width="13" height="11" viewBox="0 0 13 11"><rect x="0.5" y="3" width="3.6" height="7.2" fill="url(#gr)" stroke="#b84040" stroke-width="0.6"/><rect x="4.2" y="0.5" width="3.6" height="9.7" fill="url(#gb)" stroke="#3558a8" stroke-width="0.6"/><rect x="7.9" y="5.5" width="3.6" height="4.7" fill="url(#gg)" stroke="#357a3a" stroke-width="0.6"/></svg></div>
<div class="hl" style="top:459px"></div>
<div class="t fut" style="left:-5.00px;top:460.00px;width:200px;text-align:center;font-size:9.0px;"><span class="s" style="transform:scaleX(1.0289);transform-origin:center;letter-spacing:0.169px;margin-right:-0.169px">Tentative</span></div>
<div class="ic" style="left:130.5px;top:464.15px"><svg width="9" height="10" viewBox="0 0 9 10"><path d="M1.5 1.7 Q5.0 4.6 1.5 7.5 Q2.5 4.6 1.5 1.7 Z" fill="#a4abba" stroke="#a4abba" stroke-width="0.4"/><path d="M4.3 0.1 Q8.2 4.6 4.3 9.1 Q5.6 4.6 4.3 0.1 Z" fill="#a0a8b8" stroke="#a0a8b8" stroke-width="0.35"/></svg></div>
<div class="t cur" style="left:67.00px;top:460.00px;width:200px;text-align:center;font-size:9.0px;"><span class="s" style="transform:scaleX(0.9661);transform-origin:center;letter-spacing:-0.333px;margin-right:0.333px">EUR</span></div>
<div class="ic" style="left:210px;top:465.75px"><svg width="10" height="9" viewBox="0 0 10 9"><path d="M0.5 0.8 L9.5 0.8 L9.5 8.5 L0.5 8.5 Z" fill="#f6de1e" stroke="#aa9a08" stroke-width="0.75"/></svg></div>
<div class="t ev" style="left:253.50px;top:460.00px;font-size:9.0px;"><span class="s" style="transform:scaleX(1.0209);transform-origin:left;letter-spacing:0.133px;margin-right:-0.133px">Spanish 10-y Bond Auction</span></div>
<div class="ic" style="left:551px;top:461.75px"><svg width="16" height="16" viewBox="0 0 16 16"><rect x="2.5" y="4.95" width="9.95" height="7.35" fill="#fcf0c0" stroke="#c4a86c" stroke-width="0.9"/><rect x="5.0" y="7.55" width="7.0" height="4.3" fill="url(#fg)"/><path d="M5 7.1 L12.45 7.1" stroke="#c8aa6c" stroke-width="0.9"/></svg></div>
<div class="t val " style="left:643.50px;top:460.00px;width:200px;text-align:center;font-size:9.0px;"><span class="s" style="transform:scaleX(1.0338);transform-origin:center;letter-spacing:0.198px;margin-right:-0.198px">3.23|1.9</span></div>
<div class="hl" style="top:481px"></div>
<div class="t fut" style="left:-5.00px;top:482.00px;width:200px;text-align:center;font-size:9.0px;"><span class="s" style="transform:scaleX(1.0340);transform-origin:center;letter-spacing:0.246px;margin-right:-0.246px">5:45pm</span></div>
<div class="ic" style="left:130.5px;top:486.40px"><svg width="9" height="10" viewBox="0 0 9 10"><path d="M1.5 1.7 Q5.0 4.6 1.5 7.5 Q2.5 4.6 1.5 1.7 Z" fill="#a4abba" stroke="#a4abba" stroke-width="0.4"/><path d="M4.3 0.1 Q8.2 4.6 4.3 9.1 Q5.6 4.6 4.3 0.1 Z" fill="#a0a8b8" stroke="#a0a8b8" stroke-width="0.35"/></svg></div>
<div class="t cur" style="left:67.00px;top:482.00px;width:200px;text-align:center;font-size:9.0px;"><span class="s" style="transform:scaleX(0.9828);transform-origin:center;letter-spacing:-0.167px;margin-right:0.167px">CAD</span></div>
<div class="ic" style="left:210px;top:488.00px"><svg width="10" height="9" viewBox="0 0 10 9"><path d="M0.5 0.8 L9.5 0.8 L9.5 8.5 L0.5 8.5 Z" fill="#f6de1e" stroke="#aa9a08" stroke-width="0.75"/></svg></div>
<div class="t ev" style="left:253.50px;top:482.00px;font-size:9.0px;"><span class="s" style="transform:scaleX(1.0206);transform-origin:left;letter-spacing:0.128px;margin-right:-0.128px">Housing Starts</span></div>
<div class="ic" style="left:551px;top:484.00px"><svg width="16" height="16" viewBox="0 0 16 16"><rect x="2.5" y="4.95" width="9.95" height="7.35" fill="#fcf0c0" stroke="#c4a86c" stroke-width="0.9"/><rect x="5.0" y="7.55" width="7.0" height="4.3" fill="url(#fg)"/><path d="M5 7.1 L12.45 7.1" stroke="#c8aa6c" stroke-width="0.9"/></svg></div>
<div class="t val" style="left:579.00px;top:482.00px;width:200px;text-align:center;font-size:9.0px;"><span class="s" style="transform:scaleX(1.0125);transform-origin:center;letter-spacing:0.097px;margin-right:-0.097px">258K</span></div>
<div class="t val " style="left:643.50px;top:482.00px;width:200px;text-align:center;font-size:9.0px;"><span class="s" style="transform:scaleX(1.0125);transform-origin:center;letter-spacing:0.097px;margin-right:-0.097px">246K</span></div>
<div class="ic" style="left:786px;top:485.80px"><svg width="13" height="11" viewBox="0 0 13 11"><rect x="0.5" y="3" width="3.6" height="7.2" fill="url(#gr)" stroke="#b84040" stroke-width="0.6"/><rect x="4.2" y="0.5" width="3.6" height="9.7" fill="url(#gb)" stroke="#3558a8" stroke-width="0.6"/><rect x="7.9" y="5.5" width="3.6" height="4.7" fill="url(#gg)" stroke="#357a3a" stroke-width="0.6"/></svg></div>
<div class="hl" style="top:503px"></div>
<div class="t fut" style="left:-5.00px;top:504.00px;width:200px;text-align:center;font-size:9.0px;"><span class="s" style="transform:scaleX(1.0340);transform-origin:center;letter-spacing:0.246px;margin-right:-0.246px">6:00pm</span></div>
<div class="ic" style="left:130.5px;top:508.65px"><svg width="9" height="10" viewBox="0 0 9 10"><path d="M1.5 1.7 Q5.0 4.6 1.5 7.5 Q2.5 4.6 1.5 1.7 Z" fill="#a4abba" stroke="#a4abba" stroke-width="0.4"/><path d="M4.3 0.1 Q8.2 4.6 4.3 9.1 Q5.6 4.6 4.3 0.1 Z" fill="#a0a8b8" stroke="#a0a8b8" stroke-width="0.35"/></svg></div>
<div class="t cur" style="left:67.00px;top:504.00px;width:200px;text-align:center;font-size:9.0px;"><span class="s" style="transform:scaleX(0.9800);transform-origin:center;letter-spacing:-0.194px;margin-right:0.194px">USD</span></div>
<div class="ic" style="left:210px;top:510.25px"><svg width="10" height="9" viewBox="0 0 10 9"><path d="M0.5 0.8 L9.5 0.8 L9.5 8.5 L0.5 8.5 Z" fill="#f39a38" stroke="#b06818" stroke-width="0.75"/></svg></div>
<div class="t ev" style="left:253.50px;top:504.00px;font-size:9.0px;"><span class="s" style="transform:scaleX(1.0207);transform-origin:left;letter-spacing:0.125px;margin-right:-0.125px">Philly Fed Manufacturing Index</span></div>
<div class="ic" style="left:551px;top:506.25px"><svg width="16" height="16" viewBox="0 0 16 16"><rect x="2.5" y="4.95" width="9.95" height="7.35" fill="#fcf0c0" stroke="#c4a86c" stroke-width="0.9"/><path d="M6.6 2.25 L11.5 2.25 Q13.35 2.25 13.35 4.1 L13.35 10.2 L6.6 10.2 Z" fill="#d4e5f8" stroke="#8a93b0" stroke-width="0.85"/><path d="M13.35 4.1 L13.35 10.2" fill="none" stroke="#5f6888" stroke-width="0.9"/><path d="M4.6 7.1 L12.45 7.1 L12.45 12.3 L4.6 12.3 Z" fill="url(#fg)"/><path d="M4.6 7.1 L12.45 7.1" stroke="#c3a466" stroke-width="0.9"/><path d="M2.5 4.95 L2.5 12.3 L12.45 12.3 L12.45 7.1" fill="none" stroke="#c0a468" stroke-width="0.9"/></svg></div>
<div class="t val" style="left:579.00px;top:504.00px;width:200px;text-align:center;font-size:9.0px;"><span class="s" style="transform:scaleX(1.0296);transform-origin:center;letter-spacing:0.180px;margin-right:-0.180px">8.6</span></div>
<div class="t val " style="left:643.50px;top:504.00px;width:200px;text-align:center;font-size:9.0px;"><span class="s" style="transform:scaleX(1.0295);transform-origin:center;letter-spacing:0.188px;margin-right:-0.188px">23.2</span></div>
<div class="ic" style="left:786px;top:508.05px"><svg width="13" height="11" viewBox="0 0 13 11"><rect x="0.5" y="3" width="3.6" height="7.2" fill="url(#gr)" stroke="#b84040" stroke-width="0.6"/><rect x="4.2" y="0.5" width="3.6" height="9.7" fill="url(#gb)" stroke="#3558a8" stroke-width="0.6"/><rect x="7.9" y="5.5" width="3.6" height="4.7" fill="url(#gg)" stroke="#357a3a" stroke-width="0.6"/></svg></div>
<div class="hl" style="top:526px"></div>
<div class="t fut" style="left:-5.00px;top:527.00px;width:200px;text-align:center;font-size:9.0px;"><span class="s" style="transform:scaleX(1.0340);transform-origin:center;letter-spacing:0.246px;margin-right:-0.246px">6:30pm</span></div>
<div class="ic" style="left:130.5px;top:530.90px"><svg width="9" height="10" viewBox="0 0 9 10"><path d="M1.5 1.7 Q5.0 4.6 1.5 7.5 Q2.5 4.6 1.5 1.7 Z" fill="#a4abba" stroke="#a4abba" stroke-width="0.4"/><path d="M4.3 0.1 Q8.2 4.6 4.3 9.1 Q5.6 4.6 4.3 0.1 Z" fill="#a0a8b8" stroke="#a0a8b8" stroke-width="0.35"/></svg></div>
<div class="t cur" style="left:67.00px;top:527.00px;width:200px;text-align:center;font-size:9.0px;"><span class="s" style="transform:scaleX(0.9669);transform-origin:center;letter-spacing:-0.325px;margin-right:0.325px">GBP</span></div>
<div class="ic" style="left:210px;top:532.50px"><svg width="10" height="9" viewBox="0 0 10 9"><path d="M0.5 0.8 L9.5 0.8 L9.5 8.5 L0.5 8.5 Z" fill="#f6de1e" stroke="#aa9a08" stroke-width="0.75"/></svg></div>
<div class="t ev" style="left:253.50px;top:527.00px;font-size:9.0px;"><span class="s" style="transform:scaleX(1.0058);transform-origin:left;letter-spacing:0.044px;margin-right:-0.044px">MPC Member Mann Speaks</span></div>
<div class="ic" style="left:551px;top:528.50px"><svg width="16" height="16" viewBox="0 0 16 16"><rect x="2.5" y="4.95" width="9.95" height="7.35" fill="#fcf0c0" stroke="#c4a86c" stroke-width="0.9"/><rect x="5.0" y="7.55" width="7.0" height="4.3" fill="url(#fg)"/><path d="M5 7.1 L12.45 7.1" stroke="#c8aa6c" stroke-width="0.9"/></svg></div>
<div class="ic" style="left:130.5px;top:553.15px"><svg width="9" height="10" viewBox="0 0 9 10"><path d="M1.5 1.7 Q5.0 4.6 1.5 7.5 Q2.5 4.6 1.5 1.7 Z" fill="#a4abba" stroke="#a4abba" stroke-width="0.4"/><path d="M4.3 0.1 Q8.2 4.6 4.3 9.1 Q5.6 4.6 4.3 0.1 Z" fill="#a0a8b8" stroke="#a0a8b8" stroke-width="0.35"/></svg></div>
<div class="t cur" style="left:67.00px;top:549.00px;width:200px;text-align:center;font-size:9.0px;"><span class="s" style="transform:scaleX(0.9800);transform-origin:center;letter-spacing:-0.194px;margin-right:0.194px">USD</span></div>
<div class="ic" style="left:210px;top:554.75px"><svg width="10" height="9" viewBox="0 0 10 9"><path d="M0.5 0.8 L9.5 0.8 L9.5 8.5 L0.5 8.5 Z" fill="#f39a38" stroke="#b06818" stroke-width="0.75"/></svg></div>
<div class="t ev" style="left:253.50px;top:549.00px;font-size:9.0px;"><span class="s" style="transform:scaleX(1.0068);transform-origin:left;letter-spacing:0.050px;margin-right:-0.050px">FOMC Member Waller Speaks</span></div>
<div class="ic" style="left:551px;top:550.75px"><svg width="16" height="16" viewBox="0 0 16 16"><rect x="2.5" y="4.95" width="9.95" height="7.35" fill="#fcf0c0" stroke="#c4a86c" stroke-width="0.9"/><rect x="5.0" y="7.55" width="7.0" height="4.3" fill="url(#fg)"/><path d="M5 7.1 L12.45 7.1" stroke="#c8aa6c" stroke-width="0.9"/></svg></div>
<div class="ic" style="left:130.5px;top:575.40px"><svg width="9" height="10" viewBox="0 0 9 10"><path d="M1.5 1.7 Q5.0 4.6 1.5 7.5 Q2.5 4.6 1.5 1.7 Z" fill="#a4abba" stroke="#a4abba" stroke-width="0.4"/><path d="M4.3 0.1 Q8.2 4.6 4.3 9.1 Q5.6 4.6 4.3 0.1 Z" fill="#a0a8b8" stroke="#a0a8b8" stroke-width="0.35"/></svg></div>
<div class="t cur" style="left:67.00px;top:571.00px;width:200px;text-align:center;font-size:9.0px;"><span class="s" style="transform:scaleX(0.9800);transform-origin:center;letter-spacing:-0.194px;margin-right:0.194px">USD</span></div>
<div class="ic" style="left:210px;top:577.00px"><svg width="10" height="9" viewBox="0 0 10 9"><path d="M0.5 0.8 L9.5 0.8 L9.5 8.5 L0.5 8.5 Z" fill="#f6de1e" stroke="#aa9a08" stroke-width="0.75"/></svg></div>
<div class="t ev" style="left:253.50px;top:571.00px;font-size:9.0px;"><span class="s" style="transform:scaleX(1.0058);transform-origin:left;letter-spacing:0.043px;margin-right:-0.043px">FOMC Member Barr Speaks</span></div>
<div class="ic" style="left:551px;top:573.00px"><svg width="16" height="16" viewBox="0 0 16 16"><rect x="2.5" y="4.95" width="9.95" height="7.35" fill="#fcf0c0" stroke="#c4a86c" stroke-width="0.9"/><rect x="5.0" y="7.55" width="7.0" height="4.3" fill="url(#fg)"/><path d="M5 7.1 L12.45 7.1" stroke="#c8aa6c" stroke-width="0.9"/></svg></div>
<div class="ic" style="left:130.5px;top:597.65px"><svg width="9" height="10" viewBox="0 0 9 10"><path d="M1.5 1.7 Q5.0 4.6 1.5 7.5 Q2.5 4.6 1.5 1.7 Z" fill="#a4abba" stroke="#a4abba" stroke-width="0.4"/><path d="M4.3 0.1 Q8.2 4.6 4.3 9.1 Q5.6 4.6 4.3 0.1 Z" fill="#a0a8b8" stroke="#a0a8b8" stroke-width="0.35"/></svg></div>
<div class="t cur" style="left:67.00px;top:593.00px;width:200px;text-align:center;font-size:9.0px;"><span class="s" style="transform:scaleX(0.9800);transform-origin:center;letter-spacing:-0.194px;margin-right:0.194px">USD</span></div>
<div class="ic" style="left:210px;top:599.25px"><svg width="10" height="9" viewBox="0 0 10 9"><path d="M0.5 0.8 L9.5 0.8 L9.5 8.5 L0.5 8.5 Z" fill="#f6de1e" stroke="#aa9a08" stroke-width="0.75"/></svg></div>
<div class="t ev" style="left:253.50px;top:593.00px;font-size:9.0px;"><span class="s" style="transform:scaleX(1.0068);transform-origin:left;letter-spacing:0.051px;margin-right:-0.051px">FOMC Member Miran Speaks</span></div>
<div class="ic" style="left:551px;top:595.25px"><svg width="16" height="16" viewBox="0 0 16 16"><rect x="2.5" y="4.95" width="9.95" height="7.35" fill="#fcf0c0" stroke="#c4a86c" stroke-width="0.9"/><rect x="5.0" y="7.55" width="7.0" height="4.3" fill="url(#fg)"/><path d="M5 7.1 L12.45 7.1" stroke="#c8aa6c" stroke-width="0.9"/></svg></div>
<div class="hl" style="top:615px"></div>
<div class="t fut" style="left:-5.00px;top:616.00px;width:200px;text-align:center;font-size:9.0px;"><span class="s" style="transform:scaleX(1.0340);transform-origin:center;letter-spacing:0.246px;margin-right:-0.246px">7:30pm</span></div>
<div class="ic" style="left:130.5px;top:619.90px"><svg width="9" height="10" viewBox="0 0 9 10"><path d="M1.5 1.7 Q5.0 4.6 1.5 7.5 Q2.5 4.6 1.5 1.7 Z" fill="#a4abba" stroke="#a4abba" stroke-width="0.4"/><path d="M4.3 0.1 Q8.2 4.6 4.3 9.1 Q5.6 4.6 4.3 0.1 Z" fill="#a0a8b8" stroke="#a0a8b8" stroke-width="0.35"/></svg></div>
<div class="t cur" style="left:67.00px;top:616.00px;width:200px;text-align:center;font-size:9.0px;"><span class="s" style="transform:scaleX(0.9800);transform-origin:center;letter-spacing:-0.194px;margin-right:0.194px">USD</span></div>
<div class="ic" style="left:210px;top:621.50px"><svg width="10" height="9" viewBox="0 0 10 9"><path d="M0.5 0.8 L9.5 0.8 L9.5 8.5 L0.5 8.5 Z" fill="#f6de1e" stroke="#aa9a08" stroke-width="0.75"/></svg></div>
<div class="t ev" style="left:253.50px;top:616.00px;font-size:9.0px;"><span class="s" style="transform:scaleX(1.0076);transform-origin:left;letter-spacing:0.060px;margin-right:-0.060px">FOMC Member Bowman Speaks</span></div>
<div class="ic" style="left:551px;top:617.50px"><svg width="16" height="16" viewBox="0 0 16 16"><rect x="2.5" y="4.95" width="9.95" height="7.35" fill="#fcf0c0" stroke="#c4a86c" stroke-width="0.9"/><rect x="5.0" y="7.55" width="7.0" height="4.3" fill="url(#fg)"/><path d="M5 7.1 L12.45 7.1" stroke="#c8aa6c" stroke-width="0.9"/></svg></div>
<div class="ic" style="left:130.5px;top:642.15px"><svg width="9" height="10" viewBox="0 0 9 10"><path d="M1.5 1.7 Q5.0 4.6 1.5 7.5 Q2.5 4.6 1.5 1.7 Z" fill="#a4abba" stroke="#a4abba" stroke-width="0.4"/><path d="M4.3 0.1 Q8.2 4.6 4.3 9.1 Q5.6 4.6 4.3 0.1 Z" fill="#a0a8b8" stroke="#a0a8b8" stroke-width="0.35"/></svg></div>
<div class="t cur" style="left:67.00px;top:638.00px;width:200px;text-align:center;font-size:9.0px;"><span class="s" style="transform:scaleX(0.9800);transform-origin:center;letter-spacing:-0.194px;margin-right:0.194px">USD</span></div>
<div class="ic" style="left:210px;top:643.75px"><svg width="10" height="9" viewBox="0 0 10 9"><path d="M0.5 0.8 L9.5 0.8 L9.5 8.5 L0.5 8.5 Z" fill="#f6de1e" stroke="#aa9a08" stroke-width="0.75"/></svg></div>
<div class="t ev" style="left:253.50px;top:638.00px;font-size:9.0px;"><span class="s" style="transform:scaleX(1.0136);transform-origin:left;letter-spacing:0.093px;margin-right:-0.093px">NAHB Housing Market Index</span></div>
<div class="ic" style="left:551px;top:639.75px"><svg width="16" height="16" viewBox="0 0 16 16"><rect x="2.5" y="4.95" width="9.95" height="7.35" fill="#fcf0c0" stroke="#c4a86c" stroke-width="0.9"/><rect x="5.0" y="7.55" width="7.0" height="4.3" fill="url(#fg)"/><path d="M5 7.1 L12.45 7.1" stroke="#c8aa6c" stroke-width="0.9"/></svg></div>
<div class="t val" style="left:579.00px;top:638.00px;width:200px;text-align:center;font-size:9.0px;"><span class="s" style="transform:scaleX(1.0299);transform-origin:center;letter-spacing:0.218px;margin-right:-0.218px">33</span></div>
<div class="t val " style="left:643.50px;top:638.00px;width:200px;text-align:center;font-size:9.0px;"><span class="s" style="transform:scaleX(1.0299);transform-origin:center;letter-spacing:0.218px;margin-right:-0.218px">32</span></div>
<div class="ic" style="left:786px;top:641.55px"><svg width="13" height="11" viewBox="0 0 13 11"><rect x="0.5" y="3" width="3.6" height="7.2" fill="url(#gr)" stroke="#b84040" stroke-width="0.6"/><rect x="4.2" y="0.5" width="3.6" height="9.7" fill="url(#gb)" stroke="#3558a8" stroke-width="0.6"/><rect x="7.9" y="5.5" width="3.6" height="4.7" fill="url(#gg)" stroke="#357a3a" stroke-width="0.6"/></svg></div>
<div class="hl" style="top:659px"></div>
<div class="t fut" style="left:-5.00px;top:660.00px;width:200px;text-align:center;font-size:9.0px;"><span class="s" style="transform:scaleX(1.0289);transform-origin:center;letter-spacing:0.169px;margin-right:-0.169px">Tentative</span></div>
<div class="ic" style="left:130.5px;top:664.40px"><svg width="9" height="10" viewBox="0 0 9 10"><path d="M1.5 1.7 Q5.0 4.6 1.5 7.5 Q2.5 4.6 1.5 1.7 Z" fill="#a4abba" stroke="#a4abba" stroke-width="0.4"/><path d="M4.3 0.1 Q8.2 4.6 4.3 9.1 Q5.6 4.6 4.3 0.1 Z" fill="#a0a8b8" stroke="#a0a8b8" stroke-width="0.35"/></svg></div>
<div class="t cur" style="left:67.00px;top:660.00px;width:200px;text-align:center;font-size:9.0px;"><span class="s" style="transform:scaleX(0.9800);transform-origin:center;letter-spacing:-0.194px;margin-right:0.194px">USD</span></div>
<div class="ic" style="left:210px;top:666.00px"><svg width="10" height="9" viewBox="0 0 10 9"><path d="M0.5 0.8 L9.5 0.8 L9.5 8.5 L0.5 8.5 Z" fill="#f6de1e" stroke="#aa9a08" stroke-width="0.75"/></svg></div>
<div class="t ev" style="left:253.50px;top:660.00px;font-size:9.0px;"><span class="s" style="transform:scaleX(1.0241);transform-origin:left;letter-spacing:0.151px;margin-right:-0.151px">Business Inventories m/m</span></div>
<div class="ic" style="left:551px;top:662.00px"><svg width="16" height="16" viewBox="0 0 16 16"><rect x="2.5" y="4.95" width="9.95" height="7.35" fill="#fcf0c0" stroke="#c4a86c" stroke-width="0.9"/><rect x="5.0" y="7.55" width="7.0" height="4.3" fill="url(#fg)"/><path d="M5 7.1 L12.45 7.1" stroke="#c8aa6c" stroke-width="0.9"/></svg></div>
<div class="t val" style="left:579.00px;top:660.00px;width:200px;text-align:center;font-size:9.0px;"><span class="s" style="transform:scaleX(1.0185);transform-origin:center;letter-spacing:0.140px;margin-right:-0.140px">0.1%</span></div>
<div class="t val " style="left:643.50px;top:660.00px;width:200px;text-align:center;font-size:9.0px;"><span class="s" style="transform:scaleX(1.0185);transform-origin:center;letter-spacing:0.140px;margin-right:-0.140px">0.2%</span></div>
<div class="ic" style="left:786px;top:663.80px"><svg width="13" height="11" viewBox="0 0 13 11"><rect x="0.5" y="3" width="3.6" height="7.2" fill="url(#gr)" stroke="#b84040" stroke-width="0.6"/><rect x="4.2" y="0.5" width="3.6" height="9.7" fill="url(#gb)" stroke="#3558a8" stroke-width="0.6"/><rect x="7.9" y="5.5" width="3.6" height="4.7" fill="url(#gg)" stroke="#357a3a" stroke-width="0.6"/></svg></div>
<div class="hl" style="top:681px"></div>
<div class="t fut" style="left:-5.00px;top:682.00px;width:200px;text-align:center;font-size:9.0px;"><span class="s" style="transform:scaleX(1.0212);transform-origin:center;letter-spacing:0.146px;margin-right:-0.146px">Day 4</span></div>
<div class="t cur" style="left:67.00px;top:682.00px;width:200px;text-align:center;font-size:9.0px;"><span class="s" style="transform:scaleX(1.0188);transform-origin:center;letter-spacing:0.092px;margin-right:-0.092px">All</span></div>
<div class="ic" style="left:210px;top:688.25px"><svg width="10" height="9" viewBox="0 0 10 9"><path d="M0.5 0.8 L9.5 0.8 L9.5 8.5 L0.5 8.5 Z" fill="#f6de1e" stroke="#aa9a08" stroke-width="0.75"/></svg></div>
<div class="t ev" style="left:253.50px;top:682.00px;font-size:9.0px;"><span class="s" style="transform:scaleX(1.0095);transform-origin:left;letter-spacing:0.064px;margin-right:-0.064px">IMF Meetings</span></div>
<div class="ic" style="left:551px;top:684.25px"><svg width="16" height="16" viewBox="0 0 16 16"><rect x="2.5" y="4.95" width="9.95" height="7.35" fill="#fcf0c0" stroke="#c4a86c" stroke-width="0.9"/><rect x="5.0" y="7.55" width="7.0" height="4.3" fill="url(#fg)"/><path d="M5 7.1 L12.45 7.1" stroke="#c8aa6c" stroke-width="0.9"/></svg></div>
<div class="hl" style="top:704px"></div>
<div class="t fut" style="left:-5.00px;top:705.00px;width:200px;text-align:center;font-size:9.0px;"><span class="s" style="transform:scaleX(1.0340);transform-origin:center;letter-spacing:0.246px;margin-right:-0.246px">8:00pm</span></div>
<div class="ic" style="left:130.5px;top:708.90px"><svg width="9" height="10" viewBox="0 0 9 10"><path d="M1.5 1.7 Q5.0 4.6 1.5 7.5 Q2.5 4.6 1.5 1.7 Z" fill="#a4abba" stroke="#a4abba" stroke-width="0.4"/><path d="M4.3 0.1 Q8.2 4.6 4.3 9.1 Q5.6 4.6 4.3 0.1 Z" fill="#a0a8b8" stroke="#a0a8b8" stroke-width="0.35"/></svg></div>
<div class="t cur" style="left:67.00px;top:705.00px;width:200px;text-align:center;font-size:9.0px;"><span class="s" style="transform:scaleX(0.9800);transform-origin:center;letter-spacing:-0.194px;margin-right:0.194px">USD</span></div>
<div class="ic" style="left:210px;top:710.50px"><svg width="10" height="9" viewBox="0 0 10 9"><path d="M0.5 0.8 L9.5 0.8 L9.5 8.5 L0.5 8.5 Z" fill="#f6de1e" stroke="#aa9a08" stroke-width="0.75"/></svg></div>
<div class="t ev" style="left:253.50px;top:705.00px;font-size:9.0px;"><span class="s" style="transform:scaleX(1.0180);transform-origin:left;letter-spacing:0.114px;margin-right:-0.114px">Natural Gas Storage</span></div>
<div class="ic" style="left:551px;top:706.50px"><svg width="16" height="16" viewBox="0 0 16 16"><rect x="2.5" y="4.95" width="9.95" height="7.35" fill="#fcf0c0" stroke="#c4a86c" stroke-width="0.9"/><rect x="5.0" y="7.55" width="7.0" height="4.3" fill="url(#fg)"/><path d="M5 7.1 L12.45 7.1" stroke="#c8aa6c" stroke-width="0.9"/></svg></div>
<div class="t val" style="left:579.00px;top:705.00px;width:200px;text-align:center;font-size:9.0px;"><span class="s" style="transform:scaleX(1.0135);transform-origin:center;letter-spacing:0.106px;margin-right:-0.106px">76B</span></div>
<div class="t val " style="left:643.50px;top:705.00px;width:200px;text-align:center;font-size:9.0px;"><span class="s" style="transform:scaleX(1.0135);transform-origin:center;letter-spacing:0.106px;margin-right:-0.106px">80B</span></div>
<div class="ic" style="left:786px;top:708.30px"><svg width="13" height="11" viewBox="0 0 13 11"><rect x="0.5" y="3" width="3.6" height="7.2" fill="url(#gr)" stroke="#b84040" stroke-width="0.6"/><rect x="4.2" y="0.5" width="3.6" height="9.7" fill="url(#gb)" stroke="#3558a8" stroke-width="0.6"/><rect x="7.9" y="5.5" width="3.6" height="4.7" fill="url(#gg)" stroke="#357a3a" stroke-width="0.6"/></svg></div>
<div class="hl" style="top:726px"></div>
<div class="t fut" style="left:-5.00px;top:727.00px;width:200px;text-align:center;font-size:9.0px;"><span class="s" style="transform:scaleX(1.0340);transform-origin:center;letter-spacing:0.246px;margin-right:-0.246px">8:15pm</span></div>
<div class="ic" style="left:130.5px;top:731.15px"><svg width="9" height="10" viewBox="0 0 9 10"><path d="M1.5 1.7 Q5.0 4.6 1.5 7.5 Q2.5 4.6 1.5 1.7 Z" fill="#a4abba" stroke="#a4abba" stroke-width="0.4"/><path d="M4.3 0.1 Q8.2 4.6 4.3 9.1 Q5.6 4.6 4.3 0.1 Z" fill="#a0a8b8" stroke="#a0a8b8" stroke-width="0.35"/></svg></div>
<div class="t cur" style="left:67.00px;top:727.00px;width:200px;text-align:center;font-size:9.0px;"><span class="s" style="transform:scaleX(0.9669);transform-origin:center;letter-spacing:-0.325px;margin-right:0.325px">GBP</span></div>
<div class="ic" style="left:210px;top:732.75px"><svg width="10" height="9" viewBox="0 0 10 9"><path d="M0.5 0.8 L9.5 0.8 L9.5 8.5 L0.5 8.5 Z" fill="#f6de1e" stroke="#aa9a08" stroke-width="0.75"/></svg></div>
<div class="t ev" style="left:253.50px;top:727.00px;font-size:9.0px;"><span class="s" style="transform:scaleX(1.0058);transform-origin:left;letter-spacing:0.044px;margin-right:-0.044px">MPC Member Mann Speaks</span></div>
<div class="ic" style="left:551px;top:728.75px"><svg width="16" height="16" viewBox="0 0 16 16"><rect x="2.5" y="4.95" width="9.95" height="7.35" fill="#fcf0c0" stroke="#c4a86c" stroke-width="0.9"/><rect x="5.0" y="7.55" width="7.0" height="4.3" fill="url(#fg)"/><path d="M5 7.1 L12.45 7.1" stroke="#c8aa6c" stroke-width="0.9"/></svg></div>
<div class="hl" style="top:748px"></div>
<div class="t fut" style="left:-5.00px;top:749.00px;width:200px;text-align:center;font-size:9.0px;"><span class="s" style="transform:scaleX(1.0340);transform-origin:center;letter-spacing:0.246px;margin-right:-0.246px">9:30pm</span></div>
<div class="ic" style="left:130.5px;top:753.40px"><svg width="9" height="10" viewBox="0 0 9 10"><path d="M1.5 1.7 Q5.0 4.6 1.5 7.5 Q2.5 4.6 1.5 1.7 Z" fill="#a4abba" stroke="#a4abba" stroke-width="0.4"/><path d="M4.3 0.1 Q8.2 4.6 4.3 9.1 Q5.6 4.6 4.3 0.1 Z" fill="#a0a8b8" stroke="#a0a8b8" stroke-width="0.35"/></svg></div>
<div class="t cur" style="left:67.00px;top:749.00px;width:200px;text-align:center;font-size:9.0px;"><span class="s" style="transform:scaleX(0.9661);transform-origin:center;letter-spacing:-0.333px;margin-right:0.333px">EUR</span></div>
<div class="ic" style="left:210px;top:755.00px"><svg width="10" height="9" viewBox="0 0 10 9"><path d="M0.5 0.8 L9.5 0.8 L9.5 8.5 L0.5 8.5 Z" fill="#f39a38" stroke="#b06818" stroke-width="0.75"/></svg></div>
<div class="t ev" style="left:253.50px;top:749.00px;font-size:9.0px;"><span class="s" style="transform:scaleX(1.0068);transform-origin:left;letter-spacing:0.046px;margin-right:-0.046px">ECB President Lagarde Speaks</span></div>
<div class="ic" style="left:551px;top:751.00px"><svg width="16" height="16" viewBox="0 0 16 16"><rect x="2.5" y="4.95" width="9.95" height="7.35" fill="#fcf0c0" stroke="#c4a86c" stroke-width="0.9"/><rect x="5.0" y="7.55" width="7.0" height="4.3" fill="url(#fg)"/><path d="M5 7.1 L12.45 7.1" stroke="#c8aa6c" stroke-width="0.9"/></svg></div>
<div class="ic" style="left:130.5px;top:775.65px"><svg width="9" height="10" viewBox="0 0 9 10"><path d="M1.5 1.7 Q5.0 4.6 1.5 7.5 Q2.5 4.6 1.5 1.7 Z" fill="#a4abba" stroke="#a4abba" stroke-width="0.4"/><path d="M4.3 0.1 Q8.2 4.6 4.3 9.1 Q5.6 4.6 4.3 0.1 Z" fill="#a0a8b8" stroke="#a0a8b8" stroke-width="0.35"/></svg></div>
<div class="t cur" style="left:67.00px;top:771.00px;width:200px;text-align:center;font-size:9.0px;"><span class="s" style="transform:scaleX(0.9800);transform-origin:center;letter-spacing:-0.194px;margin-right:0.194px">USD</span></div>
<div class="ic" style="left:210px;top:777.25px"><svg width="10" height="9" viewBox="0 0 10 9"><path d="M0.5 0.8 L9.5 0.8 L9.5 8.5 L0.5 8.5 Z" fill="#f6de1e" stroke="#aa9a08" stroke-width="0.75"/></svg></div>
<div class="t ev" style="left:253.50px;top:771.00px;font-size:9.0px;"><span class="s" style="transform:scaleX(1.0226);transform-origin:left;letter-spacing:0.133px;margin-right:-0.133px">Crude Oil Inventories</span></div>
<div class="ic" style="left:551px;top:773.25px"><svg width="16" height="16" viewBox="0 0 16 16"><rect x="2.5" y="4.95" width="9.95" height="7.35" fill="#fcf0c0" stroke="#c4a86c" stroke-width="0.9"/><rect x="5.0" y="7.55" width="7.0" height="4.3" fill="url(#fg)"/><path d="M5 7.1 L12.45 7.1" stroke="#c8aa6c" stroke-width="0.9"/></svg></div>
<div class="t val" style="left:579.00px;top:771.00px;width:200px;text-align:center;font-size:9.0px;"><span class="s" style="transform:scaleX(1.0144);transform-origin:center;letter-spacing:0.106px;margin-right:-0.106px">0.3M</span></div>
<div class="t val " style="left:643.50px;top:771.00px;width:200px;text-align:center;font-size:9.0px;"><span class="s" style="transform:scaleX(1.0144);transform-origin:center;letter-spacing:0.106px;margin-right:-0.106px">3.7M</span></div>
<div class="ic" style="left:786px;top:775.05px"><svg width="13" height="11" viewBox="0 0 13 11"><rect x="0.5" y="3" width="3.6" height="7.2" fill="url(#gr)" stroke="#b84040" stroke-width="0.6"/><rect x="4.2" y="0.5" width="3.6" height="9.7" fill="url(#gb)" stroke="#3558a8" stroke-width="0.6"/><rect x="7.9" y="5.5" width="3.6" height="4.7" fill="url(#gg)" stroke="#357a3a" stroke-width="0.6"/></svg></div>
<div class="hl" style="top:793px"></div>
<div class="t fut" style="left:-5.00px;top:794.00px;width:200px;text-align:center;font-size:9.0px;"><span class="s" style="transform:scaleX(1.0418);transform-origin:center;letter-spacing:0.295px;margin-right:-0.295px">11:00pm</span></div>
<div class="ic" style="left:130.5px;top:797.90px"><svg width="9" height="10" viewBox="0 0 9 10"><path d="M1.5 1.7 Q5.0 4.6 1.5 7.5 Q2.5 4.6 1.5 1.7 Z" fill="#a4abba" stroke="#a4abba" stroke-width="0.4"/><path d="M4.3 0.1 Q8.2 4.6 4.3 9.1 Q5.6 4.6 4.3 0.1 Z" fill="#a0a8b8" stroke="#a0a8b8" stroke-width="0.35"/></svg></div>
<div class="t cur" style="left:67.00px;top:794.00px;width:200px;text-align:center;font-size:9.0px;"><span class="s" style="transform:scaleX(0.9828);transform-origin:center;letter-spacing:-0.167px;margin-right:0.167px">CAD</span></div>
<div class="ic" style="left:210px;top:799.50px"><svg width="10" height="9" viewBox="0 0 10 9"><path d="M0.5 1.3 L1.2 1.3 L1.6 0.4 L2.8 0.4 L3.2 1.3 L4.6 1.3 L5 0.4 L6.2 0.4 L6.6 1.3 L8 1.3 L8.4 0.2 L9.5 0.2 L9.5 8.5 L0.5 8.5 Z" fill="#ec0a0a" stroke="#a00000" stroke-width="0.75"/></svg></div>
<div class="t ev" style="left:253.50px;top:794.00px;font-size:9.0px;"><span class="s" style="transform:scaleX(1.0059);transform-origin:left;letter-spacing:0.044px;margin-right:-0.044px">BOC Gov Macklem Speaks</span></div>
<div class="ic" style="left:551px;top:795.50px"><svg width="16" height="16" viewBox="0 0 16 16"><rect x="2.5" y="4.95" width="9.95" height="7.35" fill="#fcf0c0" stroke="#c4a86c" stroke-width="0.9"/><rect x="5.0" y="7.55" width="7.0" height="4.3" fill="url(#fg)"/><path d="M5 7.1 L12.45 7.1" stroke="#c8aa6c" stroke-width="0.9"/></svg></div>
</body></html>
